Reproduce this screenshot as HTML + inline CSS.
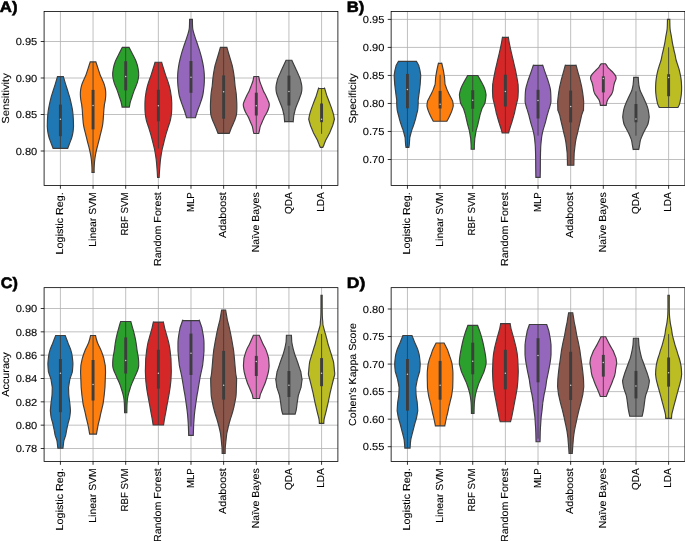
<!DOCTYPE html>
<html><head><meta charset="utf-8"><style>
html,body{margin:0;padding:0;background:#fff;}
svg{display:block;will-change:transform;}
text{font-family:"Liberation Sans",sans-serif;fill:#000;stroke:#000;stroke-width:0.1px;text-rendering:geometricPrecision;}
.gr{stroke:#b0b0b0;stroke-width:0.8;fill:none;}
.sp{stroke:#000;stroke-width:0.8;fill:none;}
.tk{stroke:#000;stroke-width:0.8;}
</style></head><body>
<svg width="685" height="541" viewBox="0 0 685 541">
<rect width="685" height="541" fill="#fff"/>
<line x1="60.41" y1="11.55" x2="60.41" y2="185.40" class="gr"/>
<line x1="93.06" y1="11.55" x2="93.06" y2="185.40" class="gr"/>
<line x1="125.70" y1="11.55" x2="125.70" y2="185.40" class="gr"/>
<line x1="158.35" y1="11.55" x2="158.35" y2="185.40" class="gr"/>
<line x1="190.99" y1="11.55" x2="190.99" y2="185.40" class="gr"/>
<line x1="223.64" y1="11.55" x2="223.64" y2="185.40" class="gr"/>
<line x1="256.29" y1="11.55" x2="256.29" y2="185.40" class="gr"/>
<line x1="288.93" y1="11.55" x2="288.93" y2="185.40" class="gr"/>
<line x1="321.58" y1="11.55" x2="321.58" y2="185.40" class="gr"/>
<line x1="44.09" y1="151.00" x2="337.90" y2="151.00" class="gr"/>
<line x1="44.09" y1="114.50" x2="337.90" y2="114.50" class="gr"/>
<line x1="44.09" y1="78.00" x2="337.90" y2="78.00" class="gr"/>
<line x1="44.09" y1="41.50" x2="337.90" y2="41.50" class="gr"/>
<path d="M63.36,76.60 C63.68,77.68 64.55,80.78 65.26,83.10 C65.97,85.42 66.85,88.03 67.61,90.50 C68.38,92.97 69.20,95.43 69.86,97.90 C70.52,100.37 71.10,103.08 71.56,105.30 C72.03,107.52 72.37,108.97 72.66,111.20 C72.95,113.43 73.17,116.23 73.31,118.70 C73.46,121.17 73.48,124.73 73.52,126.00 C73.55,127.27 73.56,125.55 73.51,126.30 C73.46,127.05 73.36,129.18 73.21,130.50 C73.06,131.82 72.88,132.95 72.61,134.20 C72.35,135.45 72.00,136.77 71.61,138.00 C71.23,139.23 70.75,140.43 70.31,141.60 C69.88,142.77 69.45,143.87 69.01,145.00 C68.58,146.13 67.93,147.83 67.71,148.40 L53.11,148.40 C52.90,147.83 52.25,146.13 51.81,145.00 C51.38,143.87 50.95,142.77 50.51,141.60 C50.08,140.43 49.60,139.23 49.21,138.00 C48.83,136.77 48.48,135.45 48.21,134.20 C47.95,132.95 47.76,131.82 47.61,130.50 C47.46,129.18 47.36,127.05 47.31,126.30 C47.26,125.55 47.28,127.27 47.31,126.00 C47.34,124.73 47.37,121.17 47.51,118.70 C47.66,116.23 47.87,113.43 48.16,111.20 C48.45,108.97 48.80,107.52 49.26,105.30 C49.73,103.08 50.30,100.37 50.96,97.90 C51.62,95.43 52.45,92.97 53.21,90.50 C53.98,88.03 54.85,85.42 55.56,83.10 C56.27,80.78 57.15,77.68 57.46,76.60 Z" fill="#1f77b4" stroke="#3d3d3d" stroke-width="1.15" stroke-linejoin="miter" stroke-miterlimit="3"/><line x1="60.41" y1="76.60" x2="60.41" y2="148.40" stroke="#3d3d3d" stroke-width="0.9"/><rect x="58.96" y="104.60" width="2.9" height="31.60" fill="#3d3d3d"/><circle cx="60.41" cy="119.20" r="0.75" fill="#d0d0d0"/>
<path d="M95.86,61.90 C96.22,63.02 97.34,66.42 98.06,68.60 C98.77,70.78 99.44,73.12 100.16,75.00 C100.87,76.88 101.66,78.27 102.36,79.90 C103.06,81.53 103.84,83.17 104.36,84.80 C104.87,86.43 105.22,88.07 105.46,89.70 C105.69,91.33 105.77,92.97 105.76,94.60 C105.74,96.23 105.56,97.93 105.36,99.50 C105.15,101.07 104.67,103.18 104.52,104.00 C104.37,104.82 104.56,103.52 104.45,104.40 C104.35,105.28 104.06,107.67 103.91,109.30 C103.76,110.93 103.68,112.57 103.56,114.20 C103.45,115.83 103.28,118.13 103.22,119.10 C103.15,120.07 103.26,119.02 103.16,120.00 C103.05,120.98 102.87,123.35 102.61,125.00 C102.34,126.65 101.94,128.27 101.56,129.90 C101.17,131.53 100.71,133.17 100.31,134.80 C99.90,136.43 99.54,138.07 99.13,139.70 C98.72,141.33 98.28,142.97 97.86,144.60 C97.44,146.23 96.99,147.87 96.61,149.50 C96.22,151.13 95.86,152.77 95.56,154.40 C95.26,156.03 95.01,157.67 94.81,159.30 C94.61,160.93 94.47,162.57 94.36,164.20 C94.24,165.83 94.15,167.72 94.12,169.10 C94.08,170.48 94.15,171.93 94.16,172.50 L91.96,172.50 C91.97,171.93 92.03,170.48 92.00,169.10 C91.97,167.72 91.87,165.83 91.76,164.20 C91.64,162.57 91.51,160.93 91.31,159.30 C91.11,157.67 90.86,156.03 90.56,154.40 C90.26,152.77 89.89,151.13 89.51,149.50 C89.12,147.87 88.68,146.23 88.26,144.60 C87.84,142.97 87.39,141.33 86.98,139.70 C86.57,138.07 86.21,136.43 85.81,134.80 C85.40,133.17 84.94,131.53 84.56,129.90 C84.17,128.27 83.77,126.65 83.51,125.00 C83.24,123.35 83.06,120.98 82.96,120.00 C82.86,119.02 82.97,120.07 82.90,119.10 C82.83,118.13 82.67,115.83 82.55,114.20 C82.44,112.57 82.36,110.93 82.21,109.30 C82.06,107.67 81.76,105.28 81.66,104.40 C81.56,103.52 81.75,104.82 81.60,104.00 C81.45,103.18 80.96,101.07 80.76,99.50 C80.55,97.93 80.37,96.23 80.36,94.60 C80.34,92.97 80.42,91.33 80.66,89.70 C80.89,88.07 81.24,86.43 81.76,84.80 C82.27,83.17 83.06,81.53 83.76,79.90 C84.46,78.27 85.24,76.88 85.96,75.00 C86.67,73.12 87.34,70.78 88.06,68.60 C88.77,66.42 89.89,63.02 90.26,61.90 Z" fill="#ff7f0e" stroke="#3d3d3d" stroke-width="1.15" stroke-linejoin="miter" stroke-miterlimit="3"/><line x1="93.06" y1="61.90" x2="93.06" y2="172.50" stroke="#3d3d3d" stroke-width="0.9"/><rect x="91.61" y="89.90" width="2.9" height="39.50" fill="#3d3d3d"/><circle cx="93.06" cy="105.60" r="0.75" fill="#d0d0d0"/>
<path d="M129.10,47.40 C129.69,48.55 131.44,51.95 132.60,54.30 C133.77,56.65 135.19,59.12 136.10,61.50 C137.02,63.88 137.67,66.22 138.10,68.60 C138.54,70.98 138.85,73.42 138.70,75.80 C138.55,78.18 137.94,80.52 137.20,82.90 C136.47,85.28 135.19,87.72 134.30,90.10 C133.42,92.48 132.57,95.22 131.90,97.20 C131.24,99.18 130.74,100.35 130.30,102.00 C129.87,103.65 129.47,106.25 129.30,107.10 L122.10,107.10 C121.94,106.25 121.54,103.65 121.10,102.00 C120.67,100.35 120.17,99.18 119.50,97.20 C118.84,95.22 117.99,92.48 117.10,90.10 C116.22,87.72 114.94,85.28 114.20,82.90 C113.47,80.52 112.85,78.18 112.70,75.80 C112.55,73.42 112.87,70.98 113.30,68.60 C113.74,66.22 114.39,63.88 115.30,61.50 C116.22,59.12 117.64,56.65 118.80,54.30 C119.97,51.95 121.72,48.55 122.30,47.40 Z" fill="#2ca02c" stroke="#3d3d3d" stroke-width="1.15" stroke-linejoin="miter" stroke-miterlimit="3"/><line x1="125.70" y1="47.40" x2="125.70" y2="107.10" stroke="#3d3d3d" stroke-width="0.9"/><rect x="124.25" y="61.20" width="2.9" height="29.20" fill="#3d3d3d"/><circle cx="125.70" cy="76.50" r="0.75" fill="#d0d0d0"/>
<path d="M161.65,62.20 C161.93,63.17 162.72,65.93 163.36,68.00 C163.99,70.07 164.79,72.60 165.45,74.60 C166.11,76.60 166.89,78.73 167.33,80.00 C167.78,81.27 167.80,81.20 168.12,82.20 C168.44,83.20 168.91,84.73 169.25,86.00 C169.59,87.27 169.95,88.80 170.18,89.80 C170.40,90.80 170.45,90.97 170.61,92.00 C170.78,93.03 171.05,95.00 171.18,96.00 C171.32,97.00 171.34,96.73 171.43,98.00 C171.53,99.27 171.73,101.20 171.75,103.60 C171.77,106.00 171.77,109.70 171.55,112.40 C171.33,115.10 171.02,117.33 170.45,119.80 C169.88,122.27 168.92,124.73 168.15,127.20 C167.38,129.67 166.55,132.13 165.85,134.60 C165.15,137.07 164.55,139.60 163.95,142.00 C163.35,144.40 162.70,146.93 162.25,149.00 C161.80,151.07 161.53,152.68 161.25,154.40 C160.97,156.12 160.75,157.67 160.55,159.30 C160.35,160.93 160.23,162.12 160.05,164.20 C159.87,166.28 159.60,169.58 159.45,171.80 C159.30,174.02 159.20,176.55 159.15,177.50 L157.55,177.50 C157.50,176.55 157.40,174.02 157.25,171.80 C157.10,169.58 156.83,166.28 156.65,164.20 C156.47,162.12 156.35,160.93 156.15,159.30 C155.95,157.67 155.73,156.12 155.45,154.40 C155.17,152.68 154.90,151.07 154.45,149.00 C154.00,146.93 153.35,144.40 152.75,142.00 C152.15,139.60 151.55,137.07 150.85,134.60 C150.15,132.13 149.32,129.67 148.55,127.20 C147.78,124.73 146.82,122.27 146.25,119.80 C145.68,117.33 145.37,115.10 145.15,112.40 C144.93,109.70 144.93,106.00 144.95,103.60 C144.97,101.20 145.17,99.27 145.27,98.00 C145.36,96.73 145.38,97.00 145.52,96.00 C145.65,95.00 145.92,93.03 146.09,92.00 C146.25,90.97 146.30,90.80 146.52,89.80 C146.75,88.80 147.11,87.27 147.45,86.00 C147.79,84.73 148.26,83.20 148.58,82.20 C148.90,81.20 148.92,81.27 149.37,80.00 C149.81,78.73 150.59,76.60 151.25,74.60 C151.91,72.60 152.71,70.07 153.34,68.00 C153.98,65.93 154.76,63.17 155.05,62.20 Z" fill="#d62728" stroke="#3d3d3d" stroke-width="1.15" stroke-linejoin="miter" stroke-miterlimit="3"/><line x1="158.35" y1="62.20" x2="158.35" y2="148.50" stroke="#3d3d3d" stroke-width="0.9"/><rect x="156.90" y="89.80" width="2.9" height="31.50" fill="#3d3d3d"/><circle cx="158.35" cy="105.80" r="0.75" fill="#d0d0d0"/>
<path d="M192.39,19.30 C192.46,20.95 192.38,26.30 192.79,29.20 C193.21,32.10 194.11,34.18 194.89,36.70 C195.68,39.22 196.64,41.77 197.49,44.30 C198.34,46.83 199.24,49.37 199.99,51.90 C200.74,54.43 201.41,56.98 201.99,59.50 C202.58,62.02 203.11,64.48 203.49,67.00 C203.88,69.52 204.16,72.07 204.29,74.60 C204.43,77.13 204.41,79.67 204.29,82.20 C204.18,84.73 203.88,87.50 203.59,89.80 C203.31,92.10 203.16,93.70 202.59,96.00 C202.03,98.30 201.06,101.07 200.19,103.60 C199.33,106.13 198.19,108.85 197.39,111.20 C196.59,113.55 195.73,116.62 195.39,117.70 L186.59,117.70 C186.26,116.62 185.39,113.55 184.59,111.20 C183.79,108.85 182.66,106.13 181.79,103.60 C180.93,101.07 179.96,98.30 179.39,96.00 C178.83,93.70 178.68,92.10 178.39,89.80 C178.11,87.50 177.81,84.73 177.69,82.20 C177.58,79.67 177.56,77.13 177.69,74.60 C177.83,72.07 178.11,69.52 178.49,67.00 C178.88,64.48 179.41,62.02 179.99,59.50 C180.58,56.98 181.24,54.43 181.99,51.90 C182.74,49.37 183.64,46.83 184.49,44.30 C185.34,41.77 186.31,39.22 187.09,36.70 C187.88,34.18 188.78,32.10 189.19,29.20 C189.61,26.30 189.53,20.95 189.59,19.30 Z" fill="#9467bd" stroke="#3d3d3d" stroke-width="1.15" stroke-linejoin="miter" stroke-miterlimit="3"/><line x1="190.99" y1="19.30" x2="190.99" y2="117.70" stroke="#3d3d3d" stroke-width="0.9"/><rect x="189.54" y="61.00" width="2.9" height="31.80" fill="#3d3d3d"/><circle cx="190.99" cy="77.30" r="0.75" fill="#d0d0d0"/>
<path d="M226.89,47.40 C227.13,48.25 227.88,50.90 228.34,52.50 C228.80,54.10 229.24,55.58 229.67,57.00 C230.09,58.42 230.49,59.67 230.89,61.00 C231.29,62.33 231.71,63.58 232.07,65.00 C232.43,66.42 232.75,68.00 233.04,69.50 C233.33,71.00 233.57,72.58 233.79,74.00 C234.00,75.42 234.18,76.63 234.34,78.00 C234.50,79.37 234.61,80.78 234.74,82.20 C234.87,83.62 234.99,85.23 235.14,86.50 C235.30,87.77 235.49,88.55 235.67,89.80 C235.86,91.05 236.10,92.55 236.24,94.00 C236.39,95.45 236.45,97.00 236.54,98.50 C236.63,100.00 236.74,101.58 236.79,103.00 C236.84,104.42 236.86,105.67 236.85,107.00 C236.85,108.33 236.83,109.75 236.77,111.00 C236.70,112.25 236.64,113.50 236.48,114.50 C236.32,115.50 236.05,116.12 235.79,117.00 C235.52,117.88 235.26,118.85 234.90,119.80 C234.53,120.75 234.04,121.72 233.61,122.70 C233.18,123.68 232.79,124.57 232.32,125.70 C231.84,126.83 231.24,128.22 230.73,129.50 C230.22,130.78 229.49,132.75 229.24,133.40 L218.04,133.40 C217.79,132.75 217.07,130.78 216.55,129.50 C216.04,128.22 215.45,126.83 214.97,125.70 C214.49,124.57 214.11,123.68 213.68,122.70 C213.25,121.72 212.75,120.75 212.39,119.80 C212.02,118.85 211.76,117.88 211.49,117.00 C211.23,116.12 210.97,115.50 210.80,114.50 C210.64,113.50 210.58,112.25 210.51,111.00 C210.45,109.75 210.43,108.33 210.43,107.00 C210.42,105.67 210.44,104.42 210.49,103.00 C210.54,101.58 210.65,100.00 210.74,98.50 C210.83,97.00 210.90,95.45 211.04,94.00 C211.19,92.55 211.43,91.05 211.61,89.80 C211.79,88.55 211.99,87.77 212.14,86.50 C212.30,85.23 212.41,83.62 212.54,82.20 C212.67,80.78 212.78,79.37 212.94,78.00 C213.10,76.63 213.28,75.42 213.49,74.00 C213.71,72.58 213.95,71.00 214.24,69.50 C214.53,68.00 214.86,66.42 215.21,65.00 C215.57,63.58 215.99,62.33 216.39,61.00 C216.79,59.67 217.19,58.42 217.61,57.00 C218.04,55.58 218.48,54.10 218.94,52.50 C219.40,50.90 220.15,48.25 220.39,47.40 Z" fill="#8c564b" stroke="#3d3d3d" stroke-width="1.15" stroke-linejoin="miter" stroke-miterlimit="3"/><line x1="223.64" y1="47.40" x2="223.64" y2="133.40" stroke="#3d3d3d" stroke-width="0.9"/><rect x="222.19" y="75.40" width="2.9" height="43.30" fill="#3d3d3d"/><circle cx="223.64" cy="91.80" r="0.75" fill="#d0d0d0"/>
<path d="M258.69,76.50 C258.87,77.33 259.30,79.88 259.79,81.50 C260.27,83.12 260.99,84.63 261.59,86.20 C262.19,87.77 262.67,89.32 263.39,90.90 C264.10,92.48 265.12,94.12 265.89,95.70 C266.65,97.28 267.43,99.02 267.99,100.40 C268.54,101.78 269.09,102.82 269.24,104.00 C269.38,105.18 269.20,106.13 268.84,107.50 C268.47,108.87 267.79,110.62 267.04,112.20 C266.29,113.78 265.13,115.42 264.34,117.00 C263.54,118.58 262.96,120.13 262.29,121.70 C261.61,123.27 260.79,124.82 260.29,126.40 C259.79,127.98 259.55,130.02 259.29,131.20 C259.02,132.38 258.79,133.12 258.69,133.50 L253.89,133.50 C253.79,133.12 253.55,132.38 253.29,131.20 C253.02,130.02 252.79,127.98 252.29,126.40 C251.79,124.82 250.96,123.27 250.29,121.70 C249.61,120.13 249.03,118.58 248.24,117.00 C247.44,115.42 246.29,113.78 245.54,112.20 C244.79,110.62 244.10,108.87 243.74,107.50 C243.37,106.13 243.19,105.18 243.34,104.00 C243.48,102.82 244.03,101.78 244.59,100.40 C245.14,99.02 245.92,97.28 246.69,95.70 C247.45,94.12 248.47,92.48 249.19,90.90 C249.90,89.32 250.39,87.77 250.99,86.20 C251.59,84.63 252.30,83.12 252.79,81.50 C253.27,79.88 253.70,77.33 253.89,76.50 Z" fill="#e377c2" stroke="#3d3d3d" stroke-width="1.15" stroke-linejoin="miter" stroke-miterlimit="3"/><line x1="256.29" y1="76.50" x2="256.29" y2="133.50" stroke="#3d3d3d" stroke-width="0.9"/><rect x="254.84" y="92.70" width="2.9" height="22.80" fill="#3d3d3d"/><circle cx="256.29" cy="105.70" r="0.75" fill="#d0d0d0"/>
<path d="M291.83,60.20 C292.47,61.60 294.89,66.92 295.65,68.60 C296.42,70.28 295.75,68.75 296.45,70.30 C297.14,71.85 299.08,76.10 299.81,77.90 C300.53,79.70 300.46,79.83 300.77,81.10 C301.09,82.37 301.52,84.23 301.71,85.50 C301.89,86.77 301.95,87.45 301.89,88.70 C301.83,89.95 301.83,91.12 301.33,93.00 C300.83,94.88 299.32,98.73 298.87,100.00 C298.42,101.27 299.20,99.23 298.65,100.60 C298.10,101.97 296.28,106.22 295.59,108.20 C294.90,110.18 294.81,111.28 294.51,112.50 C294.21,113.72 294.01,114.02 293.80,115.50 C293.58,116.98 293.33,120.38 293.24,121.40 C293.14,122.42 293.23,121.57 293.23,121.60 L284.63,121.60 C284.63,121.57 284.72,122.42 284.62,121.40 C284.53,120.38 284.28,116.98 284.07,115.50 C283.85,114.02 283.65,113.72 283.35,112.50 C283.05,111.28 282.96,110.18 282.27,108.20 C281.58,106.22 279.76,101.97 279.21,100.60 C278.67,99.23 279.44,101.27 278.99,100.00 C278.55,98.73 277.03,94.88 276.53,93.00 C276.03,91.12 276.04,89.95 275.98,88.70 C275.91,87.45 275.97,86.77 276.16,85.50 C276.34,84.23 276.77,82.37 277.09,81.10 C277.41,79.83 277.34,79.70 278.06,77.90 C278.78,76.10 280.73,71.85 281.42,70.30 C282.11,68.75 281.44,70.28 282.21,68.60 C282.98,66.92 285.39,61.60 286.03,60.20 Z" fill="#7f7f7f" stroke="#3d3d3d" stroke-width="1.15" stroke-linejoin="miter" stroke-miterlimit="3"/><line x1="288.93" y1="60.20" x2="288.93" y2="121.60" stroke="#3d3d3d" stroke-width="0.9"/><rect x="287.48" y="75.60" width="2.9" height="29.90" fill="#3d3d3d"/><circle cx="288.93" cy="91.50" r="0.75" fill="#d0d0d0"/>
<path d="M324.68,88.50 C324.68,88.52 324.33,87.33 324.71,88.60 C325.09,89.87 326.59,94.83 326.98,96.10 C327.36,97.37 326.62,95.17 327.01,96.20 C327.41,97.23 328.89,101.07 329.36,102.30 C329.84,103.53 329.50,102.58 329.88,103.60 C330.26,104.62 331.18,107.13 331.63,108.40 C332.08,109.67 332.25,110.17 332.57,111.20 C332.89,112.23 333.25,113.33 333.55,114.60 C333.84,115.87 334.20,117.98 334.33,118.80 C334.47,119.62 334.63,118.33 334.34,119.50 C334.05,120.67 332.95,124.58 332.59,125.80 C332.23,127.02 332.65,125.62 332.16,126.80 C331.68,127.98 330.13,131.82 329.68,132.90 C329.23,133.98 330.02,132.28 329.46,133.30 C328.91,134.32 327.05,137.73 326.37,139.00 C325.69,140.27 325.75,140.08 325.40,140.90 C325.05,141.72 324.53,143.13 324.25,143.90 C323.96,144.67 323.93,144.93 323.69,145.50 C323.45,146.07 322.94,147.00 322.79,147.30 L320.36,147.30 C320.21,147.00 319.71,146.07 319.46,145.50 C319.22,144.93 319.19,144.67 318.91,143.90 C318.62,143.13 318.11,141.72 317.75,140.90 C317.40,140.08 317.46,140.27 316.79,139.00 C316.11,137.73 314.24,134.32 313.69,133.30 C313.14,132.28 313.92,133.98 313.47,132.90 C313.02,131.82 311.48,127.98 310.99,126.80 C310.51,125.62 310.93,127.02 310.56,125.80 C310.20,124.58 309.10,120.67 308.81,119.50 C308.52,118.33 308.69,119.62 308.82,118.80 C308.95,117.98 309.31,115.87 309.61,114.60 C309.90,113.33 310.27,112.23 310.59,111.20 C310.91,110.17 311.08,109.67 311.52,108.40 C311.97,107.13 312.90,104.62 313.28,103.60 C313.66,102.58 313.31,103.53 313.79,102.30 C314.27,101.07 315.74,97.23 316.14,96.20 C316.54,95.17 315.79,97.37 316.18,96.10 C316.56,94.83 318.06,89.87 318.45,88.60 C318.83,87.33 318.47,88.52 318.48,88.50 Z" fill="#bcbd22" stroke="#3d3d3d" stroke-width="1.15" stroke-linejoin="miter" stroke-miterlimit="3"/><line x1="321.58" y1="88.50" x2="321.58" y2="133.80" stroke="#3d3d3d" stroke-width="0.9"/><rect x="320.13" y="103.50" width="2.9" height="18.70" fill="#3d3d3d"/><circle cx="321.58" cy="119.20" r="0.75" fill="#d0d0d0"/>
<rect x="44.09" y="11.55" width="293.81" height="173.85" class="sp"/>
<line x1="60.41" y1="185.40" x2="60.41" y2="188.80" class="tk"/>
<text x="0.00" y="0.00" font-size="10.20" text-anchor="end" textLength="62.11" lengthAdjust="spacingAndGlyphs" transform="translate(63.06,192.30) rotate(-90)">Logistic Reg.</text>
<line x1="93.06" y1="185.40" x2="93.06" y2="188.80" class="tk"/>
<text x="0.00" y="0.00" font-size="10.20" text-anchor="end" textLength="54.39" lengthAdjust="spacingAndGlyphs" transform="translate(95.71,192.30) rotate(-90)">Linear SVM</text>
<line x1="125.70" y1="185.40" x2="125.70" y2="188.80" class="tk"/>
<text x="0.00" y="0.00" font-size="10.20" text-anchor="end" textLength="43.22" lengthAdjust="spacingAndGlyphs" transform="translate(128.35,192.30) rotate(-90)">RBF SVM</text>
<line x1="158.35" y1="185.40" x2="158.35" y2="188.80" class="tk"/>
<text x="0.00" y="0.00" font-size="10.20" text-anchor="end" textLength="73.78" lengthAdjust="spacingAndGlyphs" transform="translate(161.00,192.30) rotate(-90)">Random Forest</text>
<line x1="190.99" y1="185.40" x2="190.99" y2="188.80" class="tk"/>
<text x="0.00" y="0.00" font-size="10.20" text-anchor="end" textLength="19.62" lengthAdjust="spacingAndGlyphs" transform="translate(193.64,192.30) rotate(-90)">MLP</text>
<line x1="223.64" y1="185.40" x2="223.64" y2="188.80" class="tk"/>
<text x="0.00" y="0.00" font-size="10.20" text-anchor="end" textLength="45.62" lengthAdjust="spacingAndGlyphs" transform="translate(226.29,192.30) rotate(-90)">Adaboost</text>
<line x1="256.29" y1="185.40" x2="256.29" y2="188.80" class="tk"/>
<text x="0.00" y="0.00" font-size="10.20" text-anchor="end" textLength="60.05" lengthAdjust="spacingAndGlyphs" transform="translate(258.94,192.30) rotate(-90)">Naïve Bayes</text>
<line x1="288.93" y1="185.40" x2="288.93" y2="188.80" class="tk"/>
<text x="0.00" y="0.00" font-size="10.20" text-anchor="end" textLength="21.74" lengthAdjust="spacingAndGlyphs" transform="translate(291.58,192.30) rotate(-90)">QDA</text>
<line x1="321.58" y1="185.40" x2="321.58" y2="188.80" class="tk"/>
<text x="0.00" y="0.00" font-size="10.20" text-anchor="end" textLength="19.51" lengthAdjust="spacingAndGlyphs" transform="translate(324.23,192.30) rotate(-90)">LDA</text>
<line x1="40.69" y1="151.00" x2="44.09" y2="151.00" class="tk"/>
<text x="37.29" y="154.70" font-size="10.20" text-anchor="end" textLength="21.60" lengthAdjust="spacingAndGlyphs">0.80</text>
<line x1="40.69" y1="114.50" x2="44.09" y2="114.50" class="tk"/>
<text x="37.29" y="118.20" font-size="10.20" text-anchor="end" textLength="21.60" lengthAdjust="spacingAndGlyphs">0.85</text>
<line x1="40.69" y1="78.00" x2="44.09" y2="78.00" class="tk"/>
<text x="37.29" y="81.70" font-size="10.20" text-anchor="end" textLength="21.60" lengthAdjust="spacingAndGlyphs">0.90</text>
<line x1="40.69" y1="41.50" x2="44.09" y2="41.50" class="tk"/>
<text x="37.29" y="45.20" font-size="10.20" text-anchor="end" textLength="21.60" lengthAdjust="spacingAndGlyphs">0.95</text>
<text x="0.00" y="0.00" font-size="10.20" text-anchor="middle" textLength="50.50" lengthAdjust="spacingAndGlyphs" transform="translate(9.19,98.48) rotate(-90)">Sensitivity</text>
<text x="-0.21" y="11.85" font-size="15.20" text-anchor="start" font-weight="bold" style="stroke-width:0.55px" textLength="17.73" lengthAdjust="spacingAndGlyphs">A)</text>
<line x1="407.45" y1="11.50" x2="407.45" y2="185.40" class="gr"/>
<line x1="440.10" y1="11.50" x2="440.10" y2="185.40" class="gr"/>
<line x1="472.74" y1="11.50" x2="472.74" y2="185.40" class="gr"/>
<line x1="505.39" y1="11.50" x2="505.39" y2="185.40" class="gr"/>
<line x1="538.03" y1="11.50" x2="538.03" y2="185.40" class="gr"/>
<line x1="570.67" y1="11.50" x2="570.67" y2="185.40" class="gr"/>
<line x1="603.32" y1="11.50" x2="603.32" y2="185.40" class="gr"/>
<line x1="635.96" y1="11.50" x2="635.96" y2="185.40" class="gr"/>
<line x1="668.61" y1="11.50" x2="668.61" y2="185.40" class="gr"/>
<line x1="391.13" y1="159.50" x2="684.93" y2="159.50" class="gr"/>
<line x1="391.13" y1="131.48" x2="684.93" y2="131.48" class="gr"/>
<line x1="391.13" y1="103.46" x2="684.93" y2="103.46" class="gr"/>
<line x1="391.13" y1="75.44" x2="684.93" y2="75.44" class="gr"/>
<line x1="391.13" y1="47.42" x2="684.93" y2="47.42" class="gr"/>
<line x1="391.13" y1="19.40" x2="684.93" y2="19.40" class="gr"/>
<path d="M416.50,61.40 C416.88,62.10 418.37,64.75 418.78,65.60 C419.20,66.45 418.80,65.73 418.99,66.50 C419.18,67.27 419.76,69.48 419.94,70.20 C420.11,70.92 419.92,70.00 420.04,70.80 C420.16,71.60 420.58,73.85 420.67,75.00 C420.77,76.15 420.67,76.28 420.60,77.70 C420.53,79.12 420.34,82.23 420.25,83.50 C420.16,84.77 420.24,83.88 420.07,85.30 C419.90,86.72 419.41,90.73 419.26,92.00 C419.10,93.27 419.34,91.48 419.15,92.90 C418.97,94.32 418.30,98.98 418.15,100.50 C418.00,102.02 418.28,100.75 418.24,102.00 C418.20,103.25 418.04,106.52 417.93,108.00 C417.81,109.48 417.79,109.67 417.53,110.90 C417.27,112.13 416.75,113.93 416.38,115.40 C416.01,116.87 415.68,118.43 415.34,119.70 C415.00,120.97 414.83,121.52 414.33,123.00 C413.83,124.48 412.79,127.35 412.35,128.60 C411.91,129.85 412.09,129.02 411.66,130.50 C411.24,131.98 410.12,136.27 409.80,137.50 C409.49,138.73 409.84,136.72 409.75,137.90 C409.67,139.08 409.40,143.33 409.30,144.60 C409.20,145.87 409.23,145.03 409.17,145.50 C409.10,145.97 408.93,147.08 408.88,147.40 L406.02,147.40 C405.98,147.08 405.81,145.97 405.74,145.50 C405.67,145.03 405.70,145.87 405.60,144.60 C405.51,143.33 405.24,139.08 405.15,137.90 C405.07,136.72 405.42,138.73 405.10,137.50 C404.78,136.27 403.67,131.98 403.24,130.50 C402.82,129.02 403.00,129.85 402.55,128.60 C402.11,127.35 401.07,124.48 400.58,123.00 C400.08,121.52 399.91,120.97 399.57,119.70 C399.22,118.43 398.89,116.87 398.52,115.40 C398.16,113.93 397.63,112.13 397.37,110.90 C397.12,109.67 397.10,109.48 396.98,108.00 C396.86,106.52 396.70,103.25 396.67,102.00 C396.63,100.75 396.90,102.02 396.75,100.50 C396.60,98.98 395.94,94.32 395.75,92.90 C395.57,91.48 395.80,93.27 395.65,92.00 C395.49,90.73 395.00,86.72 394.83,85.30 C394.67,83.88 394.74,84.77 394.65,83.50 C394.56,82.23 394.37,79.12 394.30,77.70 C394.23,76.28 394.14,76.15 394.23,75.00 C394.32,73.85 394.74,71.60 394.87,70.80 C394.99,70.00 394.79,70.92 394.97,70.20 C395.14,69.48 395.72,67.27 395.91,66.50 C396.11,65.73 395.71,66.45 396.12,65.60 C396.53,64.75 398.02,62.10 398.40,61.40 Z" fill="#1f77b4" stroke="#3d3d3d" stroke-width="1.15" stroke-linejoin="miter" stroke-miterlimit="3"/><line x1="407.45" y1="61.40" x2="407.45" y2="147.40" stroke="#3d3d3d" stroke-width="0.9"/><rect x="406.00" y="73.90" width="2.9" height="34.40" fill="#3d3d3d"/><circle cx="407.45" cy="89.50" r="0.75" fill="#d0d0d0"/>
<path d="M441.80,63.30 C441.81,63.35 441.61,62.45 441.86,63.60 C442.11,64.75 443.00,68.83 443.30,70.20 C443.59,71.57 443.42,70.55 443.63,71.80 C443.83,73.05 444.39,76.70 444.55,77.70 C444.71,78.70 444.49,76.80 444.57,77.80 C444.64,78.80 444.84,82.45 444.98,83.70 C445.12,84.95 445.06,84.32 445.40,85.30 C445.73,86.28 446.47,88.33 446.99,89.60 C447.50,90.87 448.04,91.92 448.51,92.90 C448.97,93.88 449.14,94.23 449.78,95.50 C450.42,96.77 451.85,99.52 452.34,100.50 C452.82,101.48 452.53,100.60 452.68,101.40 C452.83,102.20 453.19,104.32 453.23,105.30 C453.27,106.28 453.19,106.33 452.94,107.30 C452.70,108.27 452.10,110.10 451.76,111.10 C451.42,112.10 451.37,112.23 450.89,113.30 C450.41,114.37 449.56,116.18 448.90,117.50 C448.23,118.82 447.23,120.58 446.90,121.20 L433.30,121.20 C432.96,120.58 431.96,118.82 431.30,117.50 C430.63,116.18 429.78,114.37 429.31,113.30 C428.83,112.23 428.78,112.10 428.43,111.10 C428.09,110.10 427.50,108.27 427.25,107.30 C427.01,106.33 426.92,106.28 426.96,105.30 C427.01,104.32 427.36,102.20 427.51,101.40 C427.66,100.60 427.37,101.48 427.86,100.50 C428.34,99.52 429.77,96.77 430.41,95.50 C431.05,94.23 431.22,93.88 431.68,92.90 C432.15,91.92 432.69,90.87 433.21,89.60 C433.73,88.33 434.46,86.28 434.80,85.30 C435.13,84.32 435.07,84.95 435.21,83.70 C435.35,82.45 435.55,78.80 435.63,77.80 C435.70,76.80 435.49,78.70 435.64,77.70 C435.80,76.70 436.36,73.05 436.57,71.80 C436.78,70.55 436.60,71.57 436.90,70.20 C437.19,68.83 438.08,64.75 438.33,63.60 C438.58,62.45 438.39,63.35 438.40,63.30 Z" fill="#ff7f0e" stroke="#3d3d3d" stroke-width="1.15" stroke-linejoin="miter" stroke-miterlimit="3"/><line x1="440.10" y1="74.70" x2="440.10" y2="121.20" stroke="#3d3d3d" stroke-width="0.9"/><rect x="438.65" y="90.90" width="2.9" height="17.60" fill="#3d3d3d"/><circle cx="440.10" cy="104.20" r="0.75" fill="#d0d0d0"/>
<path d="M477.83,75.50 C478.33,76.40 480.18,79.77 480.81,80.90 C481.44,82.03 481.10,81.32 481.61,82.30 C482.12,83.28 483.31,85.55 483.89,86.80 C484.46,88.05 484.71,88.57 485.06,89.80 C485.41,91.03 485.82,93.18 485.97,94.20 C486.13,95.22 486.12,94.67 485.99,95.90 C485.86,97.13 485.42,100.33 485.20,101.60 C484.99,102.87 485.25,102.35 484.72,103.50 C484.19,104.65 482.50,107.58 482.02,108.50 C481.54,109.42 482.16,107.88 481.82,109.00 C481.48,110.12 480.33,113.97 479.98,115.20 C479.62,116.43 479.99,115.15 479.70,116.40 C479.41,117.65 478.52,121.47 478.24,122.70 C477.96,123.93 478.34,122.53 478.00,123.80 C477.66,125.07 476.55,129.07 476.21,130.30 C475.88,131.53 476.23,129.93 476.01,131.20 C475.79,132.47 475.09,136.67 474.89,137.90 C474.68,139.13 474.87,137.33 474.78,138.60 C474.69,139.87 474.41,143.73 474.34,145.50 C474.27,147.27 474.34,148.58 474.34,149.20 L471.14,149.20 C471.14,148.58 471.21,147.27 471.14,145.50 C471.07,143.73 470.79,139.87 470.70,138.60 C470.61,137.33 470.80,139.13 470.59,137.90 C470.39,136.67 469.69,132.47 469.47,131.20 C469.25,129.93 469.60,131.53 469.27,130.30 C468.94,129.07 467.82,125.07 467.48,123.80 C467.14,122.53 467.52,123.93 467.24,122.70 C466.96,121.47 466.07,117.65 465.78,116.40 C465.49,115.15 465.86,116.43 465.51,115.20 C465.15,113.97 464.00,110.12 463.66,109.00 C463.32,107.88 463.94,109.42 463.46,108.50 C462.98,107.58 461.29,104.65 460.76,103.50 C460.23,102.35 460.49,102.87 460.28,101.60 C460.07,100.33 459.62,97.13 459.50,95.90 C459.37,94.67 459.35,95.22 459.51,94.20 C459.66,93.18 460.07,91.03 460.42,89.80 C460.77,88.57 461.02,88.05 461.60,86.80 C462.17,85.55 463.36,83.28 463.87,82.30 C464.38,81.32 464.04,82.03 464.67,80.90 C465.30,79.77 467.15,76.40 467.65,75.50 Z" fill="#2ca02c" stroke="#3d3d3d" stroke-width="1.15" stroke-linejoin="miter" stroke-miterlimit="3"/><line x1="472.74" y1="75.50" x2="472.74" y2="131.80" stroke="#3d3d3d" stroke-width="0.9"/><rect x="471.29" y="90.20" width="2.9" height="18.60" fill="#3d3d3d"/><circle cx="472.74" cy="100.20" r="0.75" fill="#d0d0d0"/>
<path d="M508.29,37.30 C508.30,37.37 508.20,36.65 508.39,37.70 C508.57,38.75 509.16,42.35 509.38,43.60 C509.60,44.85 509.40,43.68 509.73,45.20 C510.06,46.72 511.06,51.37 511.35,52.70 C511.64,54.03 511.16,51.93 511.47,53.20 C511.77,54.47 512.81,58.70 513.19,60.30 C513.57,61.90 513.46,61.53 513.75,62.80 C514.05,64.07 514.60,66.28 514.96,67.90 C515.33,69.52 515.67,71.23 515.94,72.50 C516.20,73.77 516.25,73.90 516.55,75.50 C516.84,77.10 517.48,80.85 517.70,82.10 C517.92,83.35 517.82,82.68 517.88,83.00 C517.94,83.32 518.00,82.73 518.06,84.00 C518.13,85.27 518.24,89.00 518.25,90.60 C518.26,92.20 518.20,92.33 518.13,93.60 C518.06,94.87 518.07,96.60 517.83,98.20 C517.58,99.80 516.87,102.23 516.64,103.20 C516.41,104.17 516.68,103.03 516.46,104.00 C516.23,104.97 515.62,107.53 515.30,109.00 C514.98,110.47 514.77,111.77 514.54,112.80 C514.30,113.83 514.34,113.58 513.87,115.20 C513.41,116.82 512.11,121.25 511.74,122.50 C511.37,123.75 511.96,121.78 511.67,122.70 C511.38,123.62 510.39,126.73 509.98,128.00 C509.58,129.27 509.46,129.47 509.23,130.30 C509.01,131.13 508.74,132.55 508.64,133.00 L502.13,133.00 C502.03,132.55 501.76,131.13 501.54,130.30 C501.31,129.47 501.19,129.27 500.79,128.00 C500.38,126.73 499.39,123.62 499.10,122.70 C498.81,121.78 499.40,123.75 499.03,122.50 C498.66,121.25 497.36,116.82 496.90,115.20 C496.43,113.58 496.47,113.83 496.24,112.80 C496.00,111.77 495.79,110.47 495.47,109.00 C495.15,107.53 494.54,104.97 494.31,104.00 C494.09,103.03 494.36,104.17 494.13,103.20 C493.90,102.23 493.19,99.80 492.95,98.20 C492.70,96.60 492.71,94.87 492.64,93.60 C492.57,92.33 492.51,92.20 492.52,90.60 C492.53,89.00 492.65,85.27 492.71,84.00 C492.77,82.73 492.83,83.32 492.89,83.00 C492.95,82.68 492.85,83.35 493.07,82.10 C493.29,80.85 493.93,77.10 494.22,75.50 C494.52,73.90 494.57,73.77 494.84,72.50 C495.10,71.23 495.45,69.52 495.81,67.90 C496.17,66.28 496.72,64.07 497.02,62.80 C497.31,61.53 497.20,61.90 497.58,60.30 C497.96,58.70 499.00,54.47 499.31,53.20 C499.61,51.93 499.13,54.03 499.42,52.70 C499.71,51.37 500.71,46.72 501.04,45.20 C501.37,43.68 501.17,44.85 501.39,43.60 C501.61,42.35 502.20,38.75 502.38,37.70 C502.57,36.65 502.47,37.37 502.49,37.30 Z" fill="#d62728" stroke="#3d3d3d" stroke-width="1.15" stroke-linejoin="miter" stroke-miterlimit="3"/><line x1="505.39" y1="37.30" x2="505.39" y2="133.00" stroke="#3d3d3d" stroke-width="0.9"/><rect x="503.94" y="74.70" width="2.9" height="31.80" fill="#3d3d3d"/><circle cx="505.39" cy="91.40" r="0.75" fill="#d0d0d0"/>
<path d="M542.73,65.30 C542.75,65.37 542.52,64.65 542.88,65.70 C543.23,66.75 544.47,70.48 544.84,71.60 C545.22,72.72 544.64,71.00 545.14,72.40 C545.63,73.80 547.31,78.53 547.82,80.00 C548.33,81.47 547.82,79.93 548.19,81.20 C548.56,82.47 549.64,86.00 550.03,87.60 C550.42,89.20 550.42,89.53 550.55,90.80 C550.69,92.07 550.76,93.58 550.83,95.20 C550.90,96.82 550.95,99.25 550.94,100.50 C550.94,101.75 551.04,101.52 550.81,102.70 C550.58,103.88 549.91,106.37 549.56,107.60 C549.20,108.83 549.09,108.83 548.70,110.10 C548.30,111.37 547.48,114.22 547.19,115.20 C546.90,116.18 547.29,114.75 546.98,116.00 C546.67,117.25 545.61,121.55 545.32,122.70 C545.04,123.85 545.65,121.63 545.27,122.90 C544.89,124.17 543.60,128.13 543.03,130.30 C542.46,132.47 542.10,134.63 541.85,135.90 C541.61,137.17 541.72,136.30 541.55,137.90 C541.37,139.50 540.95,143.68 540.80,145.50 C540.66,147.32 540.70,147.55 540.65,148.80 C540.60,150.05 540.56,151.03 540.51,153.00 C540.47,154.97 540.41,159.15 540.38,160.60 C540.36,162.05 540.38,160.43 540.38,161.70 C540.37,162.97 540.37,165.60 540.34,168.20 C540.31,170.80 540.21,175.78 540.18,177.30 L535.88,177.30 C535.85,175.78 535.75,170.80 535.72,168.20 C535.69,165.60 535.69,162.97 535.68,161.70 C535.68,160.43 535.70,162.05 535.68,160.60 C535.65,159.15 535.59,154.97 535.55,153.00 C535.50,151.03 535.46,150.05 535.41,148.80 C535.36,147.55 535.40,147.32 535.26,145.50 C535.11,143.68 534.69,139.50 534.51,137.90 C534.34,136.30 534.45,137.17 534.21,135.90 C533.96,134.63 533.60,132.47 533.03,130.30 C532.46,128.13 531.17,124.17 530.79,122.90 C530.41,121.63 531.02,123.85 530.74,122.70 C530.45,121.55 529.39,117.25 529.08,116.00 C528.77,114.75 529.16,116.18 528.87,115.20 C528.58,114.22 527.76,111.37 527.36,110.10 C526.97,108.83 526.86,108.83 526.50,107.60 C526.15,106.37 525.48,103.88 525.25,102.70 C525.02,101.52 525.12,101.75 525.12,100.50 C525.11,99.25 525.16,96.82 525.23,95.20 C525.30,93.58 525.37,92.07 525.51,90.80 C525.64,89.53 525.64,89.20 526.03,87.60 C526.42,86.00 527.50,82.47 527.87,81.20 C528.24,79.93 527.73,81.47 528.24,80.00 C528.75,78.53 530.43,73.80 530.92,72.40 C531.42,71.00 530.84,72.72 531.22,71.60 C531.59,70.48 532.83,66.75 533.18,65.70 C533.54,64.65 533.31,65.37 533.33,65.30 Z" fill="#9467bd" stroke="#3d3d3d" stroke-width="1.15" stroke-linejoin="miter" stroke-miterlimit="3"/><line x1="538.03" y1="65.30" x2="538.03" y2="135.60" stroke="#3d3d3d" stroke-width="0.9"/><rect x="536.58" y="89.80" width="2.9" height="28.70" fill="#3d3d3d"/><circle cx="538.03" cy="100.50" r="0.75" fill="#d0d0d0"/>
<path d="M576.07,65.30 C576.10,65.37 575.91,64.65 576.20,65.70 C576.48,66.75 577.48,70.48 577.78,71.60 C578.09,72.72 577.63,71.00 578.01,72.40 C578.40,73.80 579.70,78.53 580.09,80.00 C580.49,81.47 580.08,79.93 580.37,81.20 C580.65,82.47 581.48,86.00 581.81,87.60 C582.14,89.20 582.16,89.53 582.36,90.80 C582.56,92.07 582.81,93.58 583.01,95.20 C583.22,96.82 583.48,99.25 583.59,100.50 C583.70,101.75 583.69,101.12 583.67,102.70 C583.65,104.28 583.51,108.77 583.47,110.00 C583.44,111.23 583.76,109.27 583.46,110.10 C583.15,110.93 581.96,114.15 581.65,115.00 C581.34,115.85 581.80,114.25 581.59,115.20 C581.39,116.15 580.70,119.45 580.42,120.70 C580.15,121.95 580.17,121.82 579.96,122.70 C579.74,123.58 579.44,124.73 579.13,126.00 C578.82,127.27 578.32,129.40 578.11,130.30 C577.91,131.20 578.17,130.32 577.91,131.40 C577.65,132.48 576.81,135.72 576.54,136.80 C576.27,137.88 576.46,137.00 576.28,137.90 C576.10,138.80 575.68,140.93 575.47,142.20 C575.27,143.47 575.27,143.72 575.05,145.50 C574.84,147.28 574.33,151.65 574.18,152.90 C574.03,154.15 574.22,151.72 574.18,153.00 C574.13,154.28 573.99,158.57 573.94,160.60 C573.89,162.63 573.88,164.43 573.87,165.20 L567.47,165.20 C567.46,164.43 567.46,162.63 567.41,160.60 C567.36,158.57 567.21,154.28 567.17,153.00 C567.13,151.72 567.32,154.15 567.17,152.90 C567.02,151.65 566.51,147.28 566.29,145.50 C566.08,143.72 566.08,143.47 565.88,142.20 C565.67,140.93 565.24,138.80 565.07,137.90 C564.89,137.00 565.08,137.88 564.81,136.80 C564.54,135.72 563.70,132.48 563.44,131.40 C563.18,130.32 563.44,131.20 563.24,130.30 C563.03,129.40 562.53,127.27 562.22,126.00 C561.91,124.73 561.61,123.58 561.39,122.70 C561.18,121.82 561.20,121.95 560.93,120.70 C560.65,119.45 559.96,116.15 559.76,115.20 C559.55,114.25 560.01,115.85 559.70,115.00 C559.39,114.15 558.20,110.93 557.89,110.10 C557.59,109.27 557.91,111.23 557.87,110.00 C557.84,108.77 557.69,104.28 557.67,102.70 C557.65,101.12 557.64,101.75 557.76,100.50 C557.87,99.25 558.13,96.82 558.34,95.20 C558.54,93.58 558.79,92.07 558.99,90.80 C559.19,89.53 559.21,89.20 559.54,87.60 C559.87,86.00 560.70,82.47 560.98,81.20 C561.27,79.93 560.86,81.47 561.26,80.00 C561.65,78.53 562.95,73.80 563.34,72.40 C563.72,71.00 563.26,72.72 563.57,71.60 C563.87,70.48 564.87,66.75 565.15,65.70 C565.43,64.65 565.25,65.37 565.27,65.30 Z" fill="#8c564b" stroke="#3d3d3d" stroke-width="1.15" stroke-linejoin="miter" stroke-miterlimit="3"/><line x1="570.67" y1="65.30" x2="570.67" y2="165.20" stroke="#3d3d3d" stroke-width="0.9"/><rect x="569.22" y="90.60" width="2.9" height="31.80" fill="#3d3d3d"/><circle cx="570.67" cy="106.50" r="0.75" fill="#d0d0d0"/>
<path d="M605.52,63.70 C605.71,63.98 606.29,64.80 606.68,65.40 C607.06,66.00 607.20,66.53 607.83,67.30 C608.46,68.07 609.56,69.08 610.47,70.00 C611.38,70.92 612.47,71.87 613.29,72.80 C614.12,73.73 614.95,74.75 615.42,75.60 C615.89,76.45 616.08,77.13 616.11,77.90 C616.14,78.67 615.87,79.35 615.60,80.20 C615.33,81.05 614.79,82.07 614.48,83.00 C614.18,83.93 613.96,84.88 613.77,85.80 C613.57,86.72 613.48,87.58 613.32,88.50 C613.15,89.42 613.05,90.37 612.77,91.30 C612.49,92.23 612.14,93.17 611.62,94.10 C611.10,95.03 610.30,95.98 609.67,96.90 C609.03,97.82 608.30,98.68 607.82,99.60 C607.33,100.52 607.03,101.43 606.76,102.40 C606.50,103.37 606.31,104.90 606.22,105.40 L600.42,105.40 C600.33,104.90 600.14,103.37 599.87,102.40 C599.61,101.43 599.30,100.52 598.82,99.60 C598.33,98.68 597.60,97.82 596.97,96.90 C596.34,95.98 595.54,95.03 595.02,94.10 C594.50,93.17 594.15,92.23 593.87,91.30 C593.59,90.37 593.49,89.42 593.32,88.50 C593.15,87.58 593.06,86.72 592.87,85.80 C592.67,84.88 592.46,83.93 592.16,83.00 C591.85,82.07 591.31,81.05 591.04,80.20 C590.77,79.35 590.50,78.67 590.53,77.90 C590.56,77.13 590.75,76.45 591.22,75.60 C591.69,74.75 592.52,73.73 593.34,72.80 C594.17,71.87 595.26,70.92 596.17,70.00 C597.08,69.08 598.17,68.07 598.80,67.30 C599.44,66.53 599.57,66.00 599.96,65.40 C600.35,64.80 600.93,63.98 601.12,63.70 Z" fill="#e377c2" stroke="#3d3d3d" stroke-width="1.15" stroke-linejoin="miter" stroke-miterlimit="3"/><line x1="603.32" y1="63.70" x2="603.32" y2="105.40" stroke="#3d3d3d" stroke-width="0.9"/><rect x="601.87" y="76.30" width="2.9" height="16.10" fill="#3d3d3d"/><circle cx="603.32" cy="78.40" r="0.75" fill="#d0d0d0"/>
<path d="M638.25,77.30 C638.29,77.92 638.36,79.68 638.47,81.00 C638.57,82.32 638.81,84.45 638.89,85.20 C638.97,85.95 638.74,84.70 638.92,85.50 C639.10,86.30 639.58,88.80 639.95,90.00 C640.32,91.20 640.74,91.83 641.13,92.70 C641.53,93.57 641.74,94.00 642.30,95.20 C642.86,96.40 643.92,98.65 644.50,99.90 C645.08,101.15 645.29,101.50 645.78,102.70 C646.27,103.90 647.04,105.83 647.46,107.10 C647.88,108.37 648.03,108.85 648.30,110.30 C648.57,111.75 648.96,114.53 649.09,115.80 C649.23,117.07 649.24,116.70 649.09,117.90 C648.94,119.10 648.50,121.73 648.20,123.00 C647.90,124.27 647.86,124.30 647.29,125.50 C646.73,126.70 645.47,128.95 644.81,130.20 C644.15,131.45 643.90,131.80 643.34,133.00 C642.79,134.20 641.97,136.13 641.46,137.40 C640.96,138.67 640.62,139.40 640.31,140.60 C640.01,141.80 639.74,143.83 639.61,144.60 C639.48,145.37 639.67,144.43 639.53,145.20 C639.40,145.97 638.94,148.50 638.81,149.20 C638.68,149.90 638.77,149.37 638.76,149.40 L633.16,149.40 C633.16,149.37 633.25,149.90 633.12,149.20 C632.99,148.50 632.53,145.97 632.39,145.20 C632.26,144.43 632.44,145.37 632.31,144.60 C632.18,143.83 631.92,141.80 631.61,140.60 C631.31,139.40 630.97,138.67 630.47,137.40 C629.96,136.13 629.14,134.20 628.58,133.00 C628.02,131.80 627.78,131.45 627.12,130.20 C626.46,128.95 625.20,126.70 624.63,125.50 C624.07,124.30 624.03,124.27 623.73,123.00 C623.43,121.73 622.98,119.10 622.83,117.90 C622.68,116.70 622.70,117.07 622.83,115.80 C622.96,114.53 623.35,111.75 623.63,110.30 C623.90,108.85 624.05,108.37 624.47,107.10 C624.89,105.83 625.65,103.90 626.15,102.70 C626.64,101.50 626.84,101.15 627.42,99.90 C628.00,98.65 629.07,96.40 629.63,95.20 C630.19,94.00 630.40,93.57 630.79,92.70 C631.18,91.83 631.61,91.20 631.98,90.00 C632.35,88.80 632.83,86.30 633.01,85.50 C633.18,84.70 632.96,85.95 633.04,85.20 C633.11,84.45 633.35,82.32 633.46,81.00 C633.57,79.68 633.64,77.92 633.68,77.30 Z" fill="#7f7f7f" stroke="#3d3d3d" stroke-width="1.15" stroke-linejoin="miter" stroke-miterlimit="3"/><line x1="635.96" y1="91.30" x2="635.96" y2="135.70" stroke="#3d3d3d" stroke-width="0.9"/><rect x="634.51" y="104.00" width="2.9" height="18.30" fill="#3d3d3d"/><circle cx="635.96" cy="119.00" r="0.75" fill="#d0d0d0"/>
<path d="M669.76,19.30 C669.81,20.87 669.80,25.92 670.06,28.70 C670.32,31.48 670.90,33.55 671.31,36.00 C671.72,38.45 672.07,41.07 672.51,43.40 C672.94,45.73 673.47,48.07 673.91,50.00 C674.34,51.93 674.74,53.33 675.11,55.00 C675.47,56.67 675.67,58.33 676.11,60.00 C676.54,61.67 677.19,63.37 677.71,65.00 C678.22,66.63 678.77,68.18 679.21,69.80 C679.64,71.42 679.99,73.07 680.31,74.70 C680.62,76.33 680.91,77.97 681.11,79.60 C681.31,81.23 681.42,82.87 681.51,84.50 C681.59,86.13 681.64,87.77 681.61,89.40 C681.57,91.03 681.47,92.67 681.31,94.30 C681.14,95.93 680.91,97.57 680.61,99.20 C680.31,100.83 679.96,102.72 679.51,104.10 C679.06,105.48 678.17,106.93 677.91,107.50 L659.31,107.50 C659.04,106.93 658.16,105.48 657.71,104.10 C657.26,102.72 656.91,100.83 656.61,99.20 C656.31,97.57 656.07,95.93 655.91,94.30 C655.74,92.67 655.64,91.03 655.61,89.40 C655.57,87.77 655.62,86.13 655.71,84.50 C655.79,82.87 655.91,81.23 656.11,79.60 C656.31,77.97 656.59,76.33 656.91,74.70 C657.22,73.07 657.57,71.42 658.01,69.80 C658.44,68.18 658.99,66.63 659.51,65.00 C660.02,63.37 660.67,61.67 661.11,60.00 C661.54,58.33 661.74,56.67 662.11,55.00 C662.47,53.33 662.87,51.93 663.31,50.00 C663.74,48.07 664.27,45.73 664.71,43.40 C665.14,41.07 665.50,38.45 665.91,36.00 C666.32,33.55 666.90,31.48 667.16,28.70 C667.42,25.92 667.41,20.87 667.46,19.30 Z" fill="#bcbd22" stroke="#3d3d3d" stroke-width="1.15" stroke-linejoin="miter" stroke-miterlimit="3"/><line x1="668.61" y1="47.30" x2="668.61" y2="107.50" stroke="#3d3d3d" stroke-width="0.9"/><rect x="667.16" y="74.20" width="2.9" height="22.00" fill="#3d3d3d"/><circle cx="668.61" cy="77.40" r="0.75" fill="#d0d0d0"/>
<rect x="391.13" y="11.50" width="293.80" height="173.90" class="sp"/>
<line x1="407.45" y1="185.40" x2="407.45" y2="188.80" class="tk"/>
<text x="0.00" y="0.00" font-size="10.20" text-anchor="end" textLength="62.11" lengthAdjust="spacingAndGlyphs" transform="translate(410.10,192.30) rotate(-90)">Logistic Reg.</text>
<line x1="440.10" y1="185.40" x2="440.10" y2="188.80" class="tk"/>
<text x="0.00" y="0.00" font-size="10.20" text-anchor="end" textLength="54.39" lengthAdjust="spacingAndGlyphs" transform="translate(442.75,192.30) rotate(-90)">Linear SVM</text>
<line x1="472.74" y1="185.40" x2="472.74" y2="188.80" class="tk"/>
<text x="0.00" y="0.00" font-size="10.20" text-anchor="end" textLength="43.22" lengthAdjust="spacingAndGlyphs" transform="translate(475.39,192.30) rotate(-90)">RBF SVM</text>
<line x1="505.39" y1="185.40" x2="505.39" y2="188.80" class="tk"/>
<text x="0.00" y="0.00" font-size="10.20" text-anchor="end" textLength="73.78" lengthAdjust="spacingAndGlyphs" transform="translate(508.04,192.30) rotate(-90)">Random Forest</text>
<line x1="538.03" y1="185.40" x2="538.03" y2="188.80" class="tk"/>
<text x="0.00" y="0.00" font-size="10.20" text-anchor="end" textLength="19.62" lengthAdjust="spacingAndGlyphs" transform="translate(540.68,192.30) rotate(-90)">MLP</text>
<line x1="570.67" y1="185.40" x2="570.67" y2="188.80" class="tk"/>
<text x="0.00" y="0.00" font-size="10.20" text-anchor="end" textLength="45.62" lengthAdjust="spacingAndGlyphs" transform="translate(573.32,192.30) rotate(-90)">Adaboost</text>
<line x1="603.32" y1="185.40" x2="603.32" y2="188.80" class="tk"/>
<text x="0.00" y="0.00" font-size="10.20" text-anchor="end" textLength="60.05" lengthAdjust="spacingAndGlyphs" transform="translate(605.97,192.30) rotate(-90)">Naïve Bayes</text>
<line x1="635.96" y1="185.40" x2="635.96" y2="188.80" class="tk"/>
<text x="0.00" y="0.00" font-size="10.20" text-anchor="end" textLength="21.74" lengthAdjust="spacingAndGlyphs" transform="translate(638.61,192.30) rotate(-90)">QDA</text>
<line x1="668.61" y1="185.40" x2="668.61" y2="188.80" class="tk"/>
<text x="0.00" y="0.00" font-size="10.20" text-anchor="end" textLength="19.51" lengthAdjust="spacingAndGlyphs" transform="translate(671.26,192.30) rotate(-90)">LDA</text>
<line x1="387.73" y1="159.50" x2="391.13" y2="159.50" class="tk"/>
<text x="384.33" y="163.20" font-size="10.20" text-anchor="end" textLength="21.60" lengthAdjust="spacingAndGlyphs">0.70</text>
<line x1="387.73" y1="131.48" x2="391.13" y2="131.48" class="tk"/>
<text x="384.33" y="135.18" font-size="10.20" text-anchor="end" textLength="21.60" lengthAdjust="spacingAndGlyphs">0.75</text>
<line x1="387.73" y1="103.46" x2="391.13" y2="103.46" class="tk"/>
<text x="384.33" y="107.16" font-size="10.20" text-anchor="end" textLength="21.60" lengthAdjust="spacingAndGlyphs">0.80</text>
<line x1="387.73" y1="75.44" x2="391.13" y2="75.44" class="tk"/>
<text x="384.33" y="79.14" font-size="10.20" text-anchor="end" textLength="21.60" lengthAdjust="spacingAndGlyphs">0.85</text>
<line x1="387.73" y1="47.42" x2="391.13" y2="47.42" class="tk"/>
<text x="384.33" y="51.12" font-size="10.20" text-anchor="end" textLength="21.60" lengthAdjust="spacingAndGlyphs">0.90</text>
<line x1="387.73" y1="19.40" x2="391.13" y2="19.40" class="tk"/>
<text x="384.33" y="23.10" font-size="10.20" text-anchor="end" textLength="21.60" lengthAdjust="spacingAndGlyphs">0.95</text>
<text x="0.00" y="0.00" font-size="10.20" text-anchor="middle" textLength="49.99" lengthAdjust="spacingAndGlyphs" transform="translate(356.23,98.45) rotate(-90)">Specificity</text>
<text x="346.83" y="11.80" font-size="15.20" text-anchor="start" font-weight="bold" style="stroke-width:0.55px" textLength="17.56" lengthAdjust="spacingAndGlyphs">B)</text>
<line x1="60.41" y1="287.65" x2="60.41" y2="461.40" class="gr"/>
<line x1="93.06" y1="287.65" x2="93.06" y2="461.40" class="gr"/>
<line x1="125.70" y1="287.65" x2="125.70" y2="461.40" class="gr"/>
<line x1="158.35" y1="287.65" x2="158.35" y2="461.40" class="gr"/>
<line x1="190.99" y1="287.65" x2="190.99" y2="461.40" class="gr"/>
<line x1="223.64" y1="287.65" x2="223.64" y2="461.40" class="gr"/>
<line x1="256.29" y1="287.65" x2="256.29" y2="461.40" class="gr"/>
<line x1="288.93" y1="287.65" x2="288.93" y2="461.40" class="gr"/>
<line x1="321.58" y1="287.65" x2="321.58" y2="461.40" class="gr"/>
<line x1="44.09" y1="448.50" x2="337.90" y2="448.50" class="gr"/>
<line x1="44.09" y1="425.17" x2="337.90" y2="425.17" class="gr"/>
<line x1="44.09" y1="401.83" x2="337.90" y2="401.83" class="gr"/>
<line x1="44.09" y1="378.50" x2="337.90" y2="378.50" class="gr"/>
<line x1="44.09" y1="355.17" x2="337.90" y2="355.17" class="gr"/>
<line x1="44.09" y1="331.83" x2="337.90" y2="331.83" class="gr"/>
<line x1="44.09" y1="308.50" x2="337.90" y2="308.50" class="gr"/>
<path d="M65.18,335.50 C65.41,336.08 66.06,337.75 66.53,339.00 C67.01,340.25 67.77,342.32 68.02,343.00 C68.28,343.68 67.68,342.18 68.05,343.10 C68.43,344.02 69.80,347.25 70.29,348.50 C70.77,349.75 70.70,349.65 70.96,350.60 C71.22,351.55 71.62,352.93 71.87,354.20 C72.11,355.47 72.28,356.73 72.45,358.20 C72.62,359.67 72.83,361.73 72.89,363.00 C72.96,364.27 72.91,364.50 72.84,365.80 C72.77,367.10 72.55,369.77 72.46,370.80 C72.36,371.83 72.66,370.70 72.27,372.00 C71.87,373.30 70.49,377.33 70.08,378.60 C69.67,379.87 70.05,378.17 69.80,379.60 C69.55,381.03 68.79,385.80 68.58,387.20 C68.38,388.60 68.54,386.75 68.57,388.00 C68.61,389.25 68.65,392.73 68.79,394.70 C68.92,396.67 69.20,398.53 69.36,399.80 C69.51,401.07 69.54,400.62 69.71,402.30 C69.89,403.98 70.30,408.33 70.41,409.90 C70.52,411.47 70.50,410.43 70.37,411.70 C70.25,412.97 70.05,415.53 69.66,417.50 C69.27,419.47 68.36,422.25 68.04,423.50 C67.71,424.75 67.92,424.00 67.71,425.00 C67.50,426.00 67.02,428.23 66.77,429.50 C66.51,430.77 66.37,431.63 66.18,432.60 C65.99,433.57 65.99,434.03 65.63,435.30 C65.28,436.57 64.37,439.08 64.05,440.20 C63.72,441.32 63.86,440.67 63.68,442.00 C63.51,443.33 63.09,447.17 62.97,448.20 L57.85,448.20 C57.73,447.17 57.32,443.33 57.14,442.00 C56.96,440.67 57.10,441.32 56.78,440.20 C56.45,439.08 55.55,436.57 55.19,435.30 C54.84,434.03 54.83,433.57 54.65,432.60 C54.46,431.63 54.32,430.77 54.06,429.50 C53.80,428.23 53.32,426.00 53.11,425.00 C52.90,424.00 53.11,424.75 52.79,423.50 C52.46,422.25 51.55,419.47 51.16,417.50 C50.77,415.53 50.58,412.97 50.45,411.70 C50.33,410.43 50.30,411.47 50.41,409.90 C50.52,408.33 50.94,403.98 51.11,402.30 C51.29,400.62 51.32,401.07 51.47,399.80 C51.62,398.53 51.91,396.67 52.04,394.70 C52.17,392.73 52.22,389.25 52.25,388.00 C52.29,386.75 52.45,388.60 52.24,387.20 C52.04,385.80 51.28,381.03 51.03,379.60 C50.78,378.17 51.16,379.87 50.75,378.60 C50.33,377.33 48.95,373.30 48.56,372.00 C48.16,370.70 48.47,371.83 48.37,370.80 C48.27,369.77 48.06,367.10 47.98,365.80 C47.91,364.50 47.87,364.27 47.93,363.00 C48.00,361.73 48.21,359.67 48.38,358.20 C48.55,356.73 48.71,355.47 48.96,354.20 C49.21,352.93 49.60,351.55 49.87,350.60 C50.13,349.65 50.06,349.75 50.54,348.50 C51.02,347.25 52.39,344.02 52.77,343.10 C53.15,342.18 52.55,343.68 52.80,343.00 C53.05,342.32 53.82,340.25 54.29,339.00 C54.77,337.75 55.42,336.08 55.65,335.50 Z" fill="#1f77b4" stroke="#3d3d3d" stroke-width="1.15" stroke-linejoin="miter" stroke-miterlimit="3"/><line x1="60.41" y1="335.50" x2="60.41" y2="448.20" stroke="#3d3d3d" stroke-width="0.9"/><rect x="58.96" y="359.00" width="2.9" height="53.20" fill="#3d3d3d"/><circle cx="60.41" cy="373.20" r="0.75" fill="#d0d0d0"/>
<path d="M95.51,335.50 C95.65,336.08 95.99,337.75 96.33,339.00 C96.68,340.25 97.35,342.32 97.57,343.00 C97.78,343.68 97.16,342.18 97.60,343.10 C98.04,344.02 99.62,347.25 100.21,348.50 C100.80,349.75 100.75,349.65 101.13,350.60 C101.51,351.55 102.04,352.93 102.48,354.20 C102.91,355.47 103.28,356.35 103.74,358.20 C104.19,360.05 104.95,364.03 105.20,365.30 C105.46,366.57 105.20,364.68 105.26,365.80 C105.31,366.92 105.51,370.25 105.53,372.00 C105.55,373.75 105.42,375.03 105.37,376.30 C105.33,377.57 105.32,377.78 105.25,379.60 C105.18,381.42 105.01,385.90 104.96,387.20 C104.90,388.50 105.06,386.15 104.94,387.40 C104.83,388.65 104.37,393.47 104.26,394.70 C104.14,395.93 104.41,393.53 104.24,394.80 C104.08,396.07 103.48,400.67 103.26,402.30 C103.03,403.93 103.16,403.33 102.89,404.60 C102.61,405.87 102.00,408.27 101.61,409.90 C101.22,411.53 100.84,413.13 100.56,414.40 C100.28,415.67 100.29,415.87 99.92,417.50 C99.54,419.13 98.61,422.95 98.30,424.20 C98.00,425.45 98.25,424.20 98.09,425.00 C97.93,425.80 97.62,427.48 97.35,429.00 C97.08,430.52 96.61,433.25 96.46,434.10 L89.66,434.10 C89.51,433.25 89.04,430.52 88.77,429.00 C88.50,427.48 88.18,425.80 88.02,425.00 C87.87,424.20 88.12,425.45 87.81,424.20 C87.51,422.95 86.57,419.13 86.20,417.50 C85.82,415.87 85.84,415.67 85.56,414.40 C85.28,413.13 84.90,411.53 84.51,409.90 C84.12,408.27 83.51,405.87 83.23,404.60 C82.96,403.33 83.09,403.93 82.86,402.30 C82.63,400.67 82.04,396.07 81.87,394.80 C81.71,393.53 81.98,395.93 81.86,394.70 C81.74,393.47 81.29,388.65 81.17,387.40 C81.06,386.15 81.21,388.50 81.16,387.20 C81.11,385.90 80.93,381.42 80.86,379.60 C80.79,377.78 80.79,377.57 80.74,376.30 C80.70,375.03 80.57,373.75 80.59,372.00 C80.61,370.25 80.81,366.92 80.86,365.80 C80.91,364.68 80.66,366.57 80.91,365.30 C81.17,364.03 81.92,360.05 82.38,358.20 C82.83,356.35 83.20,355.47 83.64,354.20 C84.07,352.93 84.61,351.55 84.98,350.60 C85.36,349.65 85.32,349.75 85.91,348.50 C86.50,347.25 88.08,344.02 88.52,343.10 C88.96,342.18 88.34,343.68 88.55,343.00 C88.76,342.32 89.44,340.25 89.78,339.00 C90.12,337.75 90.47,336.08 90.61,335.50 Z" fill="#ff7f0e" stroke="#3d3d3d" stroke-width="1.15" stroke-linejoin="miter" stroke-miterlimit="3"/><line x1="93.06" y1="335.50" x2="93.06" y2="434.10" stroke="#3d3d3d" stroke-width="0.9"/><rect x="91.61" y="360.00" width="2.9" height="40.50" fill="#3d3d3d"/><circle cx="93.06" cy="384.40" r="0.75" fill="#d0d0d0"/>
<path d="M130.80,321.50 C131.10,322.57 131.97,325.57 132.60,327.90 C133.24,330.23 134.02,332.98 134.60,335.50 C135.19,338.02 135.69,340.48 136.10,343.00 C136.52,345.52 136.72,348.07 137.10,350.60 C137.49,353.13 138.14,355.67 138.40,358.20 C138.67,360.73 138.82,363.83 138.70,365.80 C138.59,367.77 138.19,368.53 137.70,370.00 C137.22,371.47 136.47,373.05 135.80,374.60 C135.14,376.15 134.39,377.75 133.70,379.30 C133.02,380.85 132.30,382.37 131.70,383.90 C131.10,385.43 130.60,386.97 130.10,388.50 C129.60,390.03 129.12,391.55 128.70,393.10 C128.29,394.65 127.87,396.25 127.60,397.80 C127.34,399.35 127.22,400.87 127.10,402.40 C126.99,403.93 126.95,405.28 126.90,407.00 C126.85,408.72 126.82,411.75 126.80,412.70 L124.60,412.70 C124.59,411.75 124.55,408.72 124.50,407.00 C124.45,405.28 124.42,403.93 124.30,402.40 C124.19,400.87 124.07,399.35 123.80,397.80 C123.54,396.25 123.12,394.65 122.70,393.10 C122.29,391.55 121.80,390.03 121.30,388.50 C120.80,386.97 120.30,385.43 119.70,383.90 C119.10,382.37 118.39,380.85 117.70,379.30 C117.02,377.75 116.27,376.15 115.60,374.60 C114.94,373.05 114.19,371.47 113.70,370.00 C113.22,368.53 112.82,367.77 112.70,365.80 C112.59,363.83 112.74,360.73 113.00,358.20 C113.27,355.67 113.92,353.13 114.30,350.60 C114.69,348.07 114.89,345.52 115.30,343.00 C115.72,340.48 116.22,338.02 116.80,335.50 C117.39,332.98 118.17,330.23 118.80,327.90 C119.44,325.57 120.30,322.57 120.60,321.50 Z" fill="#2ca02c" stroke="#3d3d3d" stroke-width="1.15" stroke-linejoin="miter" stroke-miterlimit="3"/><line x1="125.70" y1="321.50" x2="125.70" y2="412.70" stroke="#3d3d3d" stroke-width="0.9"/><rect x="124.25" y="337.40" width="2.9" height="36.10" fill="#3d3d3d"/><circle cx="125.70" cy="360.50" r="0.75" fill="#d0d0d0"/>
<path d="M163.35,322.10 C163.36,322.13 163.21,321.33 163.42,322.30 C163.64,323.27 164.41,326.88 164.62,327.90 C164.84,328.92 164.35,327.13 164.71,328.40 C165.06,329.67 166.26,333.78 166.75,335.50 C167.24,337.22 167.29,337.45 167.63,338.70 C167.97,339.95 168.42,341.27 168.79,343.00 C169.16,344.73 169.64,347.83 169.85,349.10 C170.06,350.37 169.89,349.08 170.06,350.60 C170.24,352.12 170.74,356.73 170.90,358.20 C171.05,359.67 170.93,357.47 170.99,359.40 C171.06,361.33 171.23,367.70 171.28,369.80 C171.33,371.90 171.34,370.37 171.29,372.00 C171.24,373.63 171.06,377.87 170.96,379.60 C170.86,381.33 170.84,381.13 170.71,382.40 C170.57,383.67 170.38,385.48 170.15,387.20 C169.91,388.92 169.50,391.45 169.30,392.70 C169.10,393.95 169.26,393.10 168.97,394.70 C168.68,396.30 167.80,400.90 167.54,402.30 C167.28,403.70 167.62,401.83 167.39,403.10 C167.16,404.37 166.49,408.18 166.18,409.90 C165.87,411.62 165.78,412.13 165.54,413.40 C165.30,414.67 165.08,415.57 164.75,417.50 C164.42,419.43 163.75,423.75 163.55,425.00 L153.15,425.00 C152.95,423.75 152.28,419.43 151.95,417.50 C151.62,415.57 151.39,414.67 151.16,413.40 C150.92,412.13 150.83,411.62 150.52,409.90 C150.21,408.18 149.53,404.37 149.31,403.10 C149.08,401.83 149.42,403.70 149.16,402.30 C148.89,400.90 148.02,396.30 147.73,394.70 C147.44,393.10 147.60,393.95 147.40,392.70 C147.20,391.45 146.78,388.92 146.55,387.20 C146.31,385.48 146.13,383.67 145.99,382.40 C145.85,381.13 145.84,381.33 145.74,379.60 C145.64,377.87 145.46,373.63 145.41,372.00 C145.35,370.37 145.36,371.90 145.41,369.80 C145.46,367.70 145.64,361.33 145.71,359.40 C145.77,357.47 145.65,359.67 145.80,358.20 C145.96,356.73 146.46,352.12 146.63,350.60 C146.81,349.08 146.64,350.37 146.85,349.10 C147.06,347.83 147.53,344.73 147.90,343.00 C148.27,341.27 148.73,339.95 149.07,338.70 C149.41,337.45 149.46,337.22 149.95,335.50 C150.44,333.78 151.64,329.67 151.99,328.40 C152.35,327.13 151.86,328.92 152.08,327.90 C152.29,326.88 153.06,323.27 153.28,322.30 C153.49,321.33 153.34,322.13 153.35,322.10 Z" fill="#d62728" stroke="#3d3d3d" stroke-width="1.15" stroke-linejoin="miter" stroke-miterlimit="3"/><line x1="158.35" y1="322.10" x2="158.35" y2="425.00" stroke="#3d3d3d" stroke-width="0.9"/><rect x="156.90" y="349.80" width="2.9" height="38.80" fill="#3d3d3d"/><circle cx="158.35" cy="373.20" r="0.75" fill="#d0d0d0"/>
<path d="M199.44,320.60 C199.45,320.62 199.08,319.50 199.48,320.70 C199.89,321.90 201.47,326.60 201.87,327.80 C202.27,329.00 201.66,326.62 201.90,327.90 C202.13,329.18 202.97,333.53 203.29,335.50 C203.61,337.47 203.69,338.45 203.81,339.70 C203.92,340.95 203.96,341.18 203.99,343.00 C204.03,344.82 204.00,349.18 203.99,350.60 C203.99,352.02 204.05,350.23 203.95,351.50 C203.85,352.77 203.58,356.23 203.39,358.20 C203.21,360.17 203.00,362.03 202.85,363.30 C202.71,364.57 202.80,364.35 202.53,365.80 C202.25,367.25 201.54,370.43 201.20,372.00 C200.87,373.57 200.74,374.20 200.53,375.20 C200.33,376.20 200.10,377.27 199.96,378.00 C199.82,378.73 199.86,378.68 199.71,379.60 C199.56,380.52 199.27,382.23 199.06,383.50 C198.85,384.77 198.60,386.15 198.43,387.20 C198.26,388.25 198.26,388.55 198.04,389.80 C197.83,391.05 197.46,392.72 197.14,394.70 C196.81,396.68 196.27,400.43 196.08,401.70 C195.88,402.97 196.16,400.93 195.98,402.30 C195.79,403.67 195.19,408.03 194.95,409.90 C194.71,411.77 194.67,412.23 194.54,413.50 C194.41,414.77 194.32,415.58 194.18,417.50 C194.03,419.42 193.74,423.70 193.65,425.00 C193.56,426.30 193.70,423.58 193.64,425.30 C193.58,427.02 193.35,433.63 193.29,435.30 L188.69,435.30 C188.64,433.63 188.41,427.02 188.35,425.30 C188.29,423.58 188.43,426.30 188.34,425.00 C188.25,423.70 187.96,419.42 187.81,417.50 C187.67,415.58 187.58,414.77 187.45,413.50 C187.32,412.23 187.28,411.77 187.04,409.90 C186.80,408.03 186.20,403.67 186.01,402.30 C185.83,400.93 186.11,402.97 185.91,401.70 C185.72,400.43 185.18,396.68 184.85,394.70 C184.53,392.72 184.16,391.05 183.95,389.80 C183.73,388.55 183.73,388.25 183.56,387.20 C183.39,386.15 183.14,384.77 182.93,383.50 C182.72,382.23 182.43,380.52 182.28,379.60 C182.13,378.68 182.17,378.73 182.03,378.00 C181.89,377.27 181.66,376.20 181.46,375.20 C181.25,374.20 181.12,373.57 180.79,372.00 C180.45,370.43 179.74,367.25 179.46,365.80 C179.19,364.35 179.28,364.57 179.14,363.30 C178.99,362.03 178.78,360.17 178.59,358.20 C178.41,356.23 178.14,352.77 178.04,351.50 C177.94,350.23 178.00,352.02 177.99,350.60 C177.99,349.18 177.96,344.82 177.99,343.00 C178.03,341.18 178.07,340.95 178.18,339.70 C178.30,338.45 178.38,337.47 178.70,335.50 C179.02,333.53 179.86,329.18 180.09,327.90 C180.33,326.62 179.72,329.00 180.12,327.80 C180.52,326.60 182.10,321.90 182.51,320.70 C182.91,319.50 182.54,320.62 182.54,320.60 Z" fill="#9467bd" stroke="#3d3d3d" stroke-width="1.15" stroke-linejoin="miter" stroke-miterlimit="3"/><line x1="190.99" y1="320.60" x2="190.99" y2="426.50" stroke="#3d3d3d" stroke-width="0.9"/><rect x="189.54" y="333.60" width="2.9" height="41.40" fill="#3d3d3d"/><circle cx="190.99" cy="353.30" r="0.75" fill="#d0d0d0"/>
<path d="M225.64,310.00 C225.92,311.62 226.99,317.98 227.29,319.70 C227.59,321.42 227.10,318.93 227.44,320.30 C227.78,321.67 228.83,325.72 229.34,327.90 C229.85,330.08 230.25,332.13 230.52,333.40 C230.79,334.67 230.64,333.90 230.94,335.50 C231.24,337.10 231.99,341.07 232.34,343.00 C232.69,344.93 232.83,345.83 233.03,347.10 C233.24,348.37 233.36,348.75 233.59,350.60 C233.82,352.45 234.23,356.50 234.40,358.20 C234.57,359.90 234.41,358.50 234.60,360.80 C234.80,363.10 235.35,369.72 235.57,372.00 C235.78,374.28 235.72,373.50 235.88,374.50 C236.04,375.50 236.39,377.15 236.51,378.00 C236.63,378.85 236.62,378.07 236.60,379.60 C236.58,381.13 236.44,385.87 236.40,387.20 C236.36,388.53 236.39,386.80 236.36,387.60 C236.33,388.40 236.29,390.82 236.25,392.00 C236.21,393.18 236.17,393.83 236.10,394.70 C236.04,395.57 236.06,395.93 235.85,397.20 C235.65,398.47 235.18,400.70 234.87,402.30 C234.55,403.90 234.24,405.53 233.95,406.80 C233.67,408.07 233.37,409.12 233.17,409.90 C232.97,410.68 233.08,410.40 232.75,411.50 C232.42,412.60 231.52,415.50 231.21,416.50 C230.89,417.50 231.05,416.92 230.87,417.50 C230.69,418.08 230.47,418.75 230.12,420.00 C229.76,421.25 229.04,423.83 228.73,425.00 C228.41,426.17 228.50,425.73 228.21,427.00 C227.91,428.27 227.21,431.43 226.96,432.60 C226.71,433.77 226.87,432.70 226.70,434.00 C226.54,435.30 226.11,439.22 225.97,440.40 C225.83,441.58 226.01,439.87 225.89,441.10 C225.77,442.33 225.36,446.63 225.25,447.80 C225.14,448.97 225.24,447.15 225.23,448.10 C225.21,449.05 225.15,452.60 225.14,453.50 L222.14,453.50 C222.13,452.60 222.07,449.05 222.06,448.10 C222.04,447.15 222.14,448.97 222.03,447.80 C221.92,446.63 221.51,442.33 221.39,441.10 C221.27,439.87 221.45,441.58 221.31,440.40 C221.18,439.22 220.75,435.30 220.58,434.00 C220.42,432.70 220.57,433.77 220.32,432.60 C220.07,431.43 219.37,428.27 219.07,427.00 C218.78,425.73 218.87,426.17 218.55,425.00 C218.24,423.83 217.52,421.25 217.16,420.00 C216.81,418.75 216.59,418.08 216.41,417.50 C216.23,416.92 216.39,417.50 216.08,416.50 C215.76,415.50 214.86,412.60 214.53,411.50 C214.20,410.40 214.31,410.68 214.11,409.90 C213.91,409.12 213.61,408.07 213.33,406.80 C213.04,405.53 212.73,403.90 212.42,402.30 C212.10,400.70 211.63,398.47 211.43,397.20 C211.22,395.93 211.24,395.57 211.18,394.70 C211.11,393.83 211.08,393.18 211.03,392.00 C210.99,390.82 210.95,388.40 210.92,387.60 C210.90,386.80 210.92,388.53 210.88,387.20 C210.84,385.87 210.70,381.13 210.68,379.60 C210.66,378.07 210.65,378.85 210.77,378.00 C210.89,377.15 211.25,375.50 211.40,374.50 C211.56,373.50 211.50,374.28 211.71,372.00 C211.93,369.72 212.48,363.10 212.68,360.80 C212.87,358.50 212.71,359.90 212.88,358.20 C213.05,356.50 213.46,352.45 213.69,350.60 C213.92,348.75 214.04,348.37 214.25,347.10 C214.46,345.83 214.59,344.93 214.94,343.00 C215.29,341.07 216.04,337.10 216.34,335.50 C216.64,333.90 216.49,334.67 216.76,333.40 C217.03,332.13 217.43,330.08 217.94,327.90 C218.45,325.72 219.50,321.67 219.84,320.30 C220.18,318.93 219.69,321.42 219.99,319.70 C220.29,317.98 221.37,311.62 221.64,310.00 Z" fill="#8c564b" stroke="#3d3d3d" stroke-width="1.15" stroke-linejoin="miter" stroke-miterlimit="3"/><line x1="223.64" y1="310.00" x2="223.64" y2="453.50" stroke="#3d3d3d" stroke-width="0.9"/><rect x="222.19" y="350.90" width="2.9" height="48.70" fill="#3d3d3d"/><circle cx="223.64" cy="385.30" r="0.75" fill="#d0d0d0"/>
<path d="M259.19,335.20 C259.75,336.50 261.83,341.38 262.54,343.00 C263.26,344.62 262.83,343.63 263.45,344.90 C264.07,346.17 265.44,348.43 266.29,350.60 C267.13,352.77 268.15,356.63 268.53,357.90 C268.92,359.17 268.49,356.88 268.59,358.20 C268.69,359.52 269.11,363.70 269.11,365.80 C269.11,367.90 268.70,369.77 268.57,370.80 C268.45,371.83 268.62,370.97 268.36,372.00 C268.11,373.03 267.40,375.73 267.05,377.00 C266.70,378.27 266.60,378.48 266.24,379.60 C265.88,380.72 265.35,382.43 264.87,383.70 C264.39,384.97 263.73,386.32 263.35,387.20 C262.98,388.08 263.09,387.85 262.61,389.00 C262.13,390.15 260.86,393.15 260.47,394.10 C260.08,395.05 260.44,393.97 260.27,394.70 C260.11,395.43 259.62,397.87 259.49,398.50 L253.09,398.50 C252.96,397.87 252.46,395.43 252.30,394.70 C252.14,393.97 252.49,395.05 252.10,394.10 C251.71,393.15 250.45,390.15 249.97,389.00 C249.49,387.85 249.60,388.08 249.22,387.20 C248.84,386.32 248.18,384.97 247.70,383.70 C247.22,382.43 246.69,380.72 246.33,379.60 C245.97,378.48 245.88,378.27 245.52,377.00 C245.17,375.73 244.46,373.03 244.21,372.00 C243.96,370.97 244.12,371.83 244.00,370.80 C243.88,369.77 243.47,367.90 243.46,365.80 C243.46,363.70 243.89,359.52 243.98,358.20 C244.08,356.88 243.66,359.17 244.04,357.90 C244.43,356.63 245.44,352.77 246.29,350.60 C247.13,348.43 248.50,346.17 249.12,344.90 C249.75,343.63 249.32,344.62 250.03,343.00 C250.74,341.38 252.83,336.50 253.39,335.20 Z" fill="#e377c2" stroke="#3d3d3d" stroke-width="1.15" stroke-linejoin="miter" stroke-miterlimit="3"/><line x1="256.29" y1="335.20" x2="256.29" y2="398.50" stroke="#3d3d3d" stroke-width="0.9"/><rect x="254.84" y="355.90" width="2.9" height="20.10" fill="#3d3d3d"/><circle cx="256.29" cy="361.50" r="0.75" fill="#d0d0d0"/>
<path d="M291.43,335.20 C291.48,336.17 291.62,339.70 291.70,341.00 C291.79,342.30 291.74,341.85 291.94,343.00 C292.15,344.15 292.66,346.63 292.94,347.90 C293.22,349.17 293.27,349.28 293.65,350.60 C294.02,351.92 294.79,354.53 295.21,355.80 C295.63,357.07 295.69,356.87 296.18,358.20 C296.66,359.53 297.68,362.53 298.11,363.80 C298.53,365.07 298.29,364.48 298.73,365.80 C299.18,367.12 300.42,370.67 300.77,371.70 C301.12,372.73 300.64,370.68 300.85,372.00 C301.06,373.32 301.83,378.32 302.03,379.60 C302.22,380.88 302.20,378.43 302.03,379.70 C301.87,380.97 301.22,385.88 301.04,387.20 C300.86,388.52 301.36,386.35 300.94,387.60 C300.53,388.85 298.99,393.37 298.55,394.70 C298.12,396.03 298.53,394.33 298.31,395.60 C298.09,396.87 297.45,400.98 297.24,402.30 C297.04,403.62 297.27,402.23 297.10,403.50 C296.94,404.77 296.58,408.13 296.25,409.90 C295.92,411.67 295.32,413.40 295.13,414.10 L282.73,414.10 C282.55,413.40 281.94,411.67 281.61,409.90 C281.28,408.13 280.93,404.77 280.76,403.50 C280.60,402.23 280.82,403.62 280.62,402.30 C280.42,400.98 279.77,396.87 279.55,395.60 C279.33,394.33 279.75,396.03 279.31,394.70 C278.87,393.37 277.33,388.85 276.92,387.60 C276.50,386.35 277.00,388.52 276.82,387.20 C276.64,385.88 276.00,380.97 275.83,379.70 C275.67,378.43 275.64,380.88 275.84,379.60 C276.03,378.32 276.81,373.32 277.02,372.00 C277.23,370.68 276.74,372.73 277.09,371.70 C277.44,370.67 278.69,367.12 279.13,365.80 C279.57,364.48 279.33,365.07 279.76,363.80 C280.18,362.53 281.20,359.53 281.69,358.20 C282.17,356.87 282.23,357.07 282.65,355.80 C283.07,354.53 283.84,351.92 284.22,350.60 C284.60,349.28 284.64,349.17 284.92,347.90 C285.21,346.63 285.71,344.15 285.92,343.00 C286.12,341.85 286.07,342.30 286.16,341.00 C286.24,339.70 286.39,336.17 286.43,335.20 Z" fill="#7f7f7f" stroke="#3d3d3d" stroke-width="1.15" stroke-linejoin="miter" stroke-miterlimit="3"/><line x1="288.93" y1="346.00" x2="288.93" y2="414.10" stroke="#3d3d3d" stroke-width="0.9"/><rect x="287.48" y="371.00" width="2.9" height="26.00" fill="#3d3d3d"/><circle cx="288.93" cy="385.30" r="0.75" fill="#d0d0d0"/>
<path d="M322.18,295.30 C322.18,296.92 322.17,302.10 322.18,305.00 C322.19,307.90 322.19,310.53 322.23,312.70 C322.27,314.87 322.34,316.45 322.43,318.00 C322.52,319.55 322.69,320.83 322.78,322.00 C322.87,323.17 322.74,323.73 322.98,325.00 C323.21,326.27 323.76,328.07 324.18,329.60 C324.59,331.13 325.04,332.65 325.48,334.20 C325.91,335.75 326.38,337.35 326.78,338.90 C327.18,340.45 327.45,341.97 327.88,343.50 C328.30,345.03 328.85,346.57 329.33,348.10 C329.80,349.63 330.25,351.17 330.73,352.70 C331.20,354.23 331.72,355.77 332.18,357.30 C332.64,358.83 333.16,360.35 333.48,361.90 C333.79,363.45 333.91,365.05 334.08,366.60 C334.24,368.15 334.37,370.13 334.48,371.20 C334.58,372.27 334.68,372.37 334.70,373.00 C334.73,373.63 334.77,374.17 334.62,375.00 C334.46,375.83 334.12,376.70 333.78,378.00 C333.44,379.30 332.98,381.18 332.58,382.80 C332.18,384.42 331.78,386.07 331.38,387.70 C330.98,389.33 330.54,390.97 330.18,392.60 C329.81,394.23 329.51,395.87 329.18,397.50 C328.84,399.13 328.54,400.77 328.18,402.40 C327.82,404.03 327.41,405.67 327.03,407.30 C326.64,408.93 326.32,410.42 325.88,412.20 C325.44,413.98 324.70,416.70 324.39,418.00 C324.08,419.30 324.11,419.10 324.00,420.00 C323.90,420.90 323.81,422.83 323.78,423.40 L319.38,423.40 C319.34,422.83 319.25,420.90 319.15,420.00 C319.05,419.10 319.07,419.30 318.76,418.00 C318.45,416.70 317.72,413.98 317.28,412.20 C316.84,410.42 316.51,408.93 316.13,407.30 C315.74,405.67 315.34,404.03 314.98,402.40 C314.62,400.77 314.31,399.13 313.98,397.50 C313.64,395.87 313.34,394.23 312.98,392.60 C312.61,390.97 312.18,389.33 311.78,387.70 C311.38,386.07 310.98,384.42 310.58,382.80 C310.18,381.18 309.72,379.30 309.38,378.00 C309.04,376.70 308.69,375.83 308.54,375.00 C308.38,374.17 308.43,373.63 308.45,373.00 C308.47,372.37 308.57,372.27 308.68,371.20 C308.78,370.13 308.91,368.15 309.08,366.60 C309.24,365.05 309.36,363.45 309.68,361.90 C309.99,360.35 310.52,358.83 310.98,357.30 C311.44,355.77 311.95,354.23 312.43,352.70 C312.90,351.17 313.35,349.63 313.83,348.10 C314.30,346.57 314.85,345.03 315.28,343.50 C315.70,341.97 315.98,340.45 316.38,338.90 C316.78,337.35 317.24,335.75 317.68,334.20 C318.11,332.65 318.56,331.13 318.98,329.60 C319.39,328.07 319.94,326.27 320.18,325.00 C320.41,323.73 320.29,323.17 320.38,322.00 C320.47,320.83 320.64,319.55 320.73,318.00 C320.82,316.45 320.89,314.87 320.93,312.70 C320.97,310.53 320.97,307.90 320.98,305.00 C320.99,302.10 320.98,296.92 320.98,295.30 Z" fill="#bcbd22" stroke="#3d3d3d" stroke-width="1.15" stroke-linejoin="miter" stroke-miterlimit="3"/><line x1="321.58" y1="334.00" x2="321.58" y2="423.40" stroke="#3d3d3d" stroke-width="0.9"/><rect x="320.13" y="358.10" width="2.9" height="28.10" fill="#3d3d3d"/><circle cx="321.58" cy="373.20" r="0.75" fill="#d0d0d0"/>
<rect x="44.09" y="287.65" width="293.81" height="173.75" class="sp"/>
<line x1="60.41" y1="461.40" x2="60.41" y2="464.80" class="tk"/>
<text x="0.00" y="0.00" font-size="10.20" text-anchor="end" textLength="62.11" lengthAdjust="spacingAndGlyphs" transform="translate(63.06,468.30) rotate(-90)">Logistic Reg.</text>
<line x1="93.06" y1="461.40" x2="93.06" y2="464.80" class="tk"/>
<text x="0.00" y="0.00" font-size="10.20" text-anchor="end" textLength="54.39" lengthAdjust="spacingAndGlyphs" transform="translate(95.71,468.30) rotate(-90)">Linear SVM</text>
<line x1="125.70" y1="461.40" x2="125.70" y2="464.80" class="tk"/>
<text x="0.00" y="0.00" font-size="10.20" text-anchor="end" textLength="43.22" lengthAdjust="spacingAndGlyphs" transform="translate(128.35,468.30) rotate(-90)">RBF SVM</text>
<line x1="158.35" y1="461.40" x2="158.35" y2="464.80" class="tk"/>
<text x="0.00" y="0.00" font-size="10.20" text-anchor="end" textLength="73.78" lengthAdjust="spacingAndGlyphs" transform="translate(161.00,468.30) rotate(-90)">Random Forest</text>
<line x1="190.99" y1="461.40" x2="190.99" y2="464.80" class="tk"/>
<text x="0.00" y="0.00" font-size="10.20" text-anchor="end" textLength="19.62" lengthAdjust="spacingAndGlyphs" transform="translate(193.64,468.30) rotate(-90)">MLP</text>
<line x1="223.64" y1="461.40" x2="223.64" y2="464.80" class="tk"/>
<text x="0.00" y="0.00" font-size="10.20" text-anchor="end" textLength="45.62" lengthAdjust="spacingAndGlyphs" transform="translate(226.29,468.30) rotate(-90)">Adaboost</text>
<line x1="256.29" y1="461.40" x2="256.29" y2="464.80" class="tk"/>
<text x="0.00" y="0.00" font-size="10.20" text-anchor="end" textLength="60.05" lengthAdjust="spacingAndGlyphs" transform="translate(258.94,468.30) rotate(-90)">Naïve Bayes</text>
<line x1="288.93" y1="461.40" x2="288.93" y2="464.80" class="tk"/>
<text x="0.00" y="0.00" font-size="10.20" text-anchor="end" textLength="21.74" lengthAdjust="spacingAndGlyphs" transform="translate(291.58,468.30) rotate(-90)">QDA</text>
<line x1="321.58" y1="461.40" x2="321.58" y2="464.80" class="tk"/>
<text x="0.00" y="0.00" font-size="10.20" text-anchor="end" textLength="19.51" lengthAdjust="spacingAndGlyphs" transform="translate(324.23,468.30) rotate(-90)">LDA</text>
<line x1="40.69" y1="448.50" x2="44.09" y2="448.50" class="tk"/>
<text x="37.29" y="452.20" font-size="10.20" text-anchor="end" textLength="21.60" lengthAdjust="spacingAndGlyphs">0.78</text>
<line x1="40.69" y1="425.17" x2="44.09" y2="425.17" class="tk"/>
<text x="37.29" y="428.87" font-size="10.20" text-anchor="end" textLength="21.60" lengthAdjust="spacingAndGlyphs">0.80</text>
<line x1="40.69" y1="401.83" x2="44.09" y2="401.83" class="tk"/>
<text x="37.29" y="405.53" font-size="10.20" text-anchor="end" textLength="21.60" lengthAdjust="spacingAndGlyphs">0.82</text>
<line x1="40.69" y1="378.50" x2="44.09" y2="378.50" class="tk"/>
<text x="37.29" y="382.20" font-size="10.20" text-anchor="end" textLength="21.60" lengthAdjust="spacingAndGlyphs">0.84</text>
<line x1="40.69" y1="355.17" x2="44.09" y2="355.17" class="tk"/>
<text x="37.29" y="358.87" font-size="10.20" text-anchor="end" textLength="21.60" lengthAdjust="spacingAndGlyphs">0.86</text>
<line x1="40.69" y1="331.83" x2="44.09" y2="331.83" class="tk"/>
<text x="37.29" y="335.53" font-size="10.20" text-anchor="end" textLength="21.60" lengthAdjust="spacingAndGlyphs">0.88</text>
<line x1="40.69" y1="308.50" x2="44.09" y2="308.50" class="tk"/>
<text x="37.29" y="312.20" font-size="10.20" text-anchor="end" textLength="21.60" lengthAdjust="spacingAndGlyphs">0.90</text>
<text x="0.00" y="0.00" font-size="10.20" text-anchor="middle" textLength="44.46" lengthAdjust="spacingAndGlyphs" transform="translate(9.19,374.52) rotate(-90)">Accuracy</text>
<text x="0.69" y="287.55" font-size="15.20" text-anchor="start" font-weight="bold" style="stroke-width:0.55px" textLength="17.15" lengthAdjust="spacingAndGlyphs">C)</text>
<line x1="407.45" y1="287.65" x2="407.45" y2="461.40" class="gr"/>
<line x1="440.10" y1="287.65" x2="440.10" y2="461.40" class="gr"/>
<line x1="472.74" y1="287.65" x2="472.74" y2="461.40" class="gr"/>
<line x1="505.39" y1="287.65" x2="505.39" y2="461.40" class="gr"/>
<line x1="538.03" y1="287.65" x2="538.03" y2="461.40" class="gr"/>
<line x1="570.67" y1="287.65" x2="570.67" y2="461.40" class="gr"/>
<line x1="603.32" y1="287.65" x2="603.32" y2="461.40" class="gr"/>
<line x1="635.96" y1="287.65" x2="635.96" y2="461.40" class="gr"/>
<line x1="668.61" y1="287.65" x2="668.61" y2="461.40" class="gr"/>
<line x1="391.13" y1="446.70" x2="684.93" y2="446.70" class="gr"/>
<line x1="391.13" y1="419.16" x2="684.93" y2="419.16" class="gr"/>
<line x1="391.13" y1="391.62" x2="684.93" y2="391.62" class="gr"/>
<line x1="391.13" y1="364.08" x2="684.93" y2="364.08" class="gr"/>
<line x1="391.13" y1="336.54" x2="684.93" y2="336.54" class="gr"/>
<line x1="391.13" y1="309.00" x2="684.93" y2="309.00" class="gr"/>
<path d="M411.95,335.50 C412.19,336.08 412.87,337.75 413.37,339.00 C413.86,340.25 414.65,342.32 414.92,343.00 C415.18,343.68 414.54,342.18 414.95,343.10 C415.36,344.02 416.85,347.25 417.38,348.50 C417.90,349.75 417.82,349.65 418.10,350.60 C418.38,351.55 418.80,352.93 419.07,354.20 C419.33,355.47 419.51,356.73 419.69,358.20 C419.87,359.67 420.07,361.73 420.15,363.00 C420.23,364.27 420.23,364.50 420.15,365.80 C420.07,367.10 419.80,369.77 419.69,370.80 C419.57,371.83 419.81,370.70 419.45,372.00 C419.09,373.30 417.88,377.33 417.52,378.60 C417.15,379.87 417.54,378.17 417.26,379.60 C416.98,381.03 416.09,385.80 415.84,387.20 C415.60,388.60 415.76,386.75 415.80,388.00 C415.85,389.25 415.93,392.73 416.10,394.70 C416.26,396.67 416.63,398.53 416.81,399.80 C417.00,401.07 417.04,400.62 417.19,402.30 C417.35,403.98 417.65,408.33 417.72,409.90 C417.79,411.47 417.79,410.43 417.60,411.70 C417.40,412.97 417.01,415.53 416.55,417.50 C416.10,419.47 415.23,422.25 414.88,423.50 C414.53,424.75 414.86,423.48 414.46,425.00 C414.07,426.52 412.97,430.88 412.53,432.60 C412.09,434.32 412.12,434.03 411.82,435.30 C411.52,436.57 411.02,438.07 410.73,440.20 C410.43,442.33 410.16,446.78 410.05,448.10 L404.85,448.10 C404.74,446.78 404.47,442.33 404.18,440.20 C403.88,438.07 403.38,436.57 403.08,435.30 C402.78,434.03 402.82,434.32 402.38,432.60 C401.93,430.88 400.83,426.52 400.44,425.00 C400.05,423.48 400.37,424.75 400.03,423.50 C399.68,422.25 398.81,419.47 398.35,417.50 C397.90,415.53 397.50,412.97 397.31,411.70 C397.11,410.43 397.12,411.47 397.18,409.90 C397.25,408.33 397.56,403.98 397.71,402.30 C397.86,400.62 397.91,401.07 398.09,399.80 C398.27,398.53 398.64,396.67 398.81,394.70 C398.98,392.73 399.06,389.25 399.10,388.00 C399.14,386.75 399.30,388.60 399.06,387.20 C398.82,385.80 397.92,381.03 397.64,379.60 C397.36,378.17 397.75,379.87 397.39,378.60 C397.02,377.33 395.81,373.30 395.45,372.00 C395.09,370.70 395.34,371.83 395.22,370.80 C395.10,369.77 394.83,367.10 394.75,365.80 C394.67,364.50 394.68,364.27 394.75,363.00 C394.83,361.73 395.03,359.67 395.22,358.20 C395.40,356.73 395.57,355.47 395.84,354.20 C396.10,352.93 396.52,351.55 396.80,350.60 C397.09,349.65 397.00,349.75 397.53,348.50 C398.05,347.25 399.55,344.02 399.96,343.10 C400.37,342.18 399.73,343.68 399.99,343.00 C400.25,342.32 401.04,340.25 401.54,339.00 C402.03,337.75 402.72,336.08 402.95,335.50 Z" fill="#1f77b4" stroke="#3d3d3d" stroke-width="1.15" stroke-linejoin="miter" stroke-miterlimit="3"/><line x1="407.45" y1="335.50" x2="407.45" y2="448.10" stroke="#3d3d3d" stroke-width="0.9"/><rect x="406.00" y="359.00" width="2.9" height="51.60" fill="#3d3d3d"/><circle cx="407.45" cy="374.30" r="0.75" fill="#d0d0d0"/>
<path d="M444.10,343.00 C444.60,344.00 446.48,347.73 447.09,349.00 C447.71,350.27 447.43,349.60 447.79,350.60 C448.15,351.60 448.79,353.73 449.23,355.00 C449.67,356.27 449.97,356.78 450.42,358.20 C450.87,359.62 451.62,362.23 451.93,363.50 C452.24,364.77 452.14,364.38 452.30,365.80 C452.46,367.22 452.80,369.70 452.90,372.00 C453.00,374.30 452.90,378.18 452.90,379.60 C452.89,381.02 452.91,379.23 452.88,380.50 C452.85,381.77 452.77,385.78 452.71,387.20 C452.66,388.62 452.73,387.75 452.57,389.00 C452.41,390.25 451.98,393.28 451.75,394.70 C451.51,396.12 451.47,396.23 451.17,397.50 C450.88,398.77 450.32,400.88 449.96,402.30 C449.61,403.72 449.32,404.73 449.04,406.00 C448.76,407.27 448.58,408.48 448.28,409.90 C447.98,411.32 447.55,413.23 447.25,414.50 C446.95,415.77 446.88,415.62 446.47,417.50 C446.06,419.38 445.08,424.42 444.80,425.80 L435.40,425.80 C435.12,424.42 434.13,419.38 433.72,417.50 C433.31,415.62 433.24,415.77 432.94,414.50 C432.64,413.23 432.21,411.32 431.91,409.90 C431.62,408.48 431.43,407.27 431.15,406.00 C430.87,404.73 430.59,403.72 430.23,402.30 C429.88,400.88 429.32,398.77 429.02,397.50 C428.72,396.23 428.68,396.12 428.45,394.70 C428.21,393.28 427.78,390.25 427.62,389.00 C427.46,387.75 427.53,388.62 427.48,387.20 C427.43,385.78 427.34,381.77 427.31,380.50 C427.28,379.23 427.30,381.02 427.30,379.60 C427.29,378.18 427.20,374.30 427.30,372.00 C427.40,369.70 427.74,367.22 427.90,365.80 C428.06,364.38 427.95,364.77 428.26,363.50 C428.58,362.23 429.32,359.62 429.77,358.20 C430.22,356.78 430.53,356.27 430.97,355.00 C431.41,353.73 432.05,351.60 432.40,350.60 C432.76,349.60 432.49,350.27 433.10,349.00 C433.72,347.73 435.60,344.00 436.10,343.00 Z" fill="#ff7f0e" stroke="#3d3d3d" stroke-width="1.15" stroke-linejoin="miter" stroke-miterlimit="3"/><line x1="440.10" y1="343.00" x2="440.10" y2="425.80" stroke="#3d3d3d" stroke-width="0.9"/><rect x="438.65" y="360.90" width="2.9" height="38.80" fill="#3d3d3d"/><circle cx="440.10" cy="385.30" r="0.75" fill="#d0d0d0"/>
<path d="M477.54,325.30 C477.97,326.48 479.34,329.95 480.14,332.40 C480.94,334.85 481.69,337.47 482.34,340.00 C482.99,342.53 483.52,345.07 484.04,347.60 C484.56,350.13 485.09,352.68 485.44,355.20 C485.79,357.72 486.21,360.57 486.14,362.70 C486.07,364.83 485.46,366.35 485.04,368.00 C484.62,369.65 484.22,371.05 483.64,372.60 C483.06,374.15 482.24,375.75 481.54,377.30 C480.84,378.85 480.07,380.37 479.44,381.90 C478.81,383.43 478.26,384.97 477.74,386.50 C477.22,388.03 476.76,389.55 476.34,391.10 C475.92,392.65 475.53,394.25 475.24,395.80 C474.95,397.35 474.76,398.87 474.59,400.40 C474.42,401.93 474.32,403.47 474.24,405.00 C474.16,406.53 474.12,408.18 474.09,409.60 C474.06,411.02 474.05,412.85 474.04,413.50 L471.44,413.50 C471.43,412.85 471.42,411.02 471.39,409.60 C471.36,408.18 471.32,406.53 471.24,405.00 C471.16,403.47 471.06,401.93 470.89,400.40 C470.72,398.87 470.53,397.35 470.24,395.80 C469.95,394.25 469.56,392.65 469.14,391.10 C468.72,389.55 468.26,388.03 467.74,386.50 C467.22,384.97 466.67,383.43 466.04,381.90 C465.41,380.37 464.64,378.85 463.94,377.30 C463.24,375.75 462.42,374.15 461.84,372.60 C461.26,371.05 460.86,369.65 460.44,368.00 C460.02,366.35 459.41,364.83 459.34,362.70 C459.27,360.57 459.69,357.72 460.04,355.20 C460.39,352.68 460.92,350.13 461.44,347.60 C461.96,345.07 462.49,342.53 463.14,340.00 C463.79,337.47 464.54,334.85 465.34,332.40 C466.14,329.95 467.51,326.48 467.94,325.30 Z" fill="#2ca02c" stroke="#3d3d3d" stroke-width="1.15" stroke-linejoin="miter" stroke-miterlimit="3"/><line x1="472.74" y1="325.30" x2="472.74" y2="413.50" stroke="#3d3d3d" stroke-width="0.9"/><rect x="471.29" y="342.70" width="2.9" height="31.60" fill="#3d3d3d"/><circle cx="472.74" cy="361.20" r="0.75" fill="#d0d0d0"/>
<path d="M510.14,323.60 C510.30,324.50 510.84,327.78 511.09,329.00 C511.35,330.22 511.20,329.32 511.65,330.90 C512.10,332.48 513.42,337.15 513.80,338.50 C514.17,339.85 513.59,337.73 513.91,339.00 C514.23,340.27 515.30,344.43 515.71,346.10 C516.11,347.77 516.12,347.75 516.36,349.00 C516.61,350.25 516.94,351.93 517.17,353.60 C517.40,355.27 517.62,357.73 517.74,359.00 C517.85,360.27 517.78,359.37 517.86,361.20 C517.94,363.03 518.15,368.20 518.22,370.00 C518.28,371.80 518.28,370.40 518.24,372.00 C518.19,373.60 517.99,378.27 517.94,379.60 C517.88,380.93 518.02,378.73 517.91,380.00 C517.80,381.27 517.45,385.53 517.27,387.20 C517.10,388.87 517.06,388.75 516.85,390.00 C516.64,391.25 516.32,393.03 516.01,394.70 C515.70,396.37 515.24,398.73 515.00,400.00 C514.75,401.27 514.87,400.65 514.56,402.30 C514.25,403.95 513.38,408.62 513.13,409.90 C512.89,411.18 513.37,408.73 513.12,410.00 C512.87,411.27 512.07,415.55 511.64,417.50 C511.21,419.45 510.72,421.00 510.54,421.70 L500.24,421.70 C500.05,421.00 499.57,419.45 499.14,417.50 C498.71,415.55 497.91,411.27 497.66,410.00 C497.41,408.73 497.88,411.18 497.64,409.90 C497.40,408.62 496.52,403.95 496.21,402.30 C495.90,400.65 496.02,401.27 495.78,400.00 C495.53,398.73 495.07,396.37 494.76,394.70 C494.45,393.03 494.13,391.25 493.92,390.00 C493.71,388.75 493.68,388.87 493.50,387.20 C493.32,385.53 492.97,381.27 492.86,380.00 C492.75,378.73 492.89,380.93 492.84,379.60 C492.78,378.27 492.58,373.60 492.54,372.00 C492.49,370.40 492.49,371.80 492.55,370.00 C492.62,368.20 492.84,363.03 492.92,361.20 C493.00,359.37 492.92,360.27 493.03,359.00 C493.15,357.73 493.37,355.27 493.60,353.60 C493.83,351.93 494.17,350.25 494.41,349.00 C494.66,347.75 494.66,347.77 495.07,346.10 C495.47,344.43 496.54,340.27 496.86,339.00 C497.18,337.73 496.60,339.85 496.98,338.50 C497.35,337.15 498.67,332.48 499.12,330.90 C499.57,329.32 499.43,330.22 499.68,329.00 C499.93,327.78 500.48,324.50 500.64,323.60 Z" fill="#d62728" stroke="#3d3d3d" stroke-width="1.15" stroke-linejoin="miter" stroke-miterlimit="3"/><line x1="505.39" y1="323.60" x2="505.39" y2="421.70" stroke="#3d3d3d" stroke-width="0.9"/><rect x="503.94" y="349.80" width="2.9" height="39.60" fill="#3d3d3d"/><circle cx="505.39" cy="373.20" r="0.75" fill="#d0d0d0"/>
<path d="M546.68,324.50 C547.04,325.57 548.43,329.68 548.82,330.90 C549.20,332.12 548.76,330.53 548.99,331.80 C549.23,333.07 549.91,336.52 550.23,338.50 C550.55,340.48 550.77,342.43 550.90,343.70 C551.04,344.97 551.01,344.45 551.03,346.10 C551.05,347.75 551.04,352.03 551.03,353.60 C551.02,355.17 551.06,354.23 550.95,355.50 C550.83,356.77 550.62,359.23 550.33,361.20 C550.05,363.17 549.56,365.50 549.24,367.30 C548.91,369.10 548.64,370.72 548.39,372.00 C548.14,373.28 548.00,373.73 547.73,375.00 C547.45,376.27 546.93,378.77 546.76,379.60 C546.59,380.43 546.82,379.10 546.69,380.00 C546.56,380.90 546.17,383.80 546.00,385.00 C545.83,386.20 545.85,386.07 545.64,387.20 C545.43,388.33 545.00,390.55 544.75,391.80 C544.49,393.05 544.42,392.95 544.10,394.70 C543.79,396.45 543.10,400.80 542.87,402.30 C542.64,403.80 542.85,402.43 542.72,403.70 C542.58,404.97 542.30,407.93 542.07,409.90 C541.85,411.87 541.52,414.23 541.36,415.50 C541.20,416.77 541.25,415.92 541.13,417.50 C541.01,419.08 540.75,423.37 540.64,425.00 C540.53,426.63 540.55,426.03 540.48,427.30 C540.41,428.57 540.30,430.20 540.22,432.60 C540.15,435.00 540.06,440.18 540.03,441.70 L536.03,441.70 C536.00,440.18 535.91,435.00 535.84,432.60 C535.76,430.20 535.65,428.57 535.58,427.30 C535.51,426.03 535.53,426.63 535.42,425.00 C535.31,423.37 535.05,419.08 534.93,417.50 C534.81,415.92 534.86,416.77 534.70,415.50 C534.54,414.23 534.21,411.87 533.99,409.90 C533.76,407.93 533.48,404.97 533.34,403.70 C533.21,402.43 533.42,403.80 533.19,402.30 C532.96,400.80 532.27,396.45 531.96,394.70 C531.64,392.95 531.57,393.05 531.31,391.80 C531.06,390.55 530.63,388.33 530.42,387.20 C530.21,386.07 530.23,386.20 530.06,385.00 C529.89,383.80 529.50,380.90 529.37,380.00 C529.24,379.10 529.47,380.43 529.30,379.60 C529.13,378.77 528.61,376.27 528.33,375.00 C528.06,373.73 527.92,373.28 527.67,372.00 C527.42,370.72 527.15,369.10 526.82,367.30 C526.50,365.50 526.01,363.17 525.73,361.20 C525.44,359.23 525.23,356.77 525.11,355.50 C525.00,354.23 525.04,355.17 525.03,353.60 C525.02,352.03 525.01,347.75 525.03,346.10 C525.05,344.45 525.02,344.97 525.16,343.70 C525.29,342.43 525.51,340.48 525.83,338.50 C526.15,336.52 526.83,333.07 527.07,331.80 C527.30,330.53 526.86,332.12 527.24,330.90 C527.63,329.68 529.02,325.57 529.38,324.50 Z" fill="#9467bd" stroke="#3d3d3d" stroke-width="1.15" stroke-linejoin="miter" stroke-miterlimit="3"/><line x1="538.03" y1="324.50" x2="538.03" y2="438.70" stroke="#3d3d3d" stroke-width="0.9"/><rect x="536.58" y="338.20" width="2.9" height="44.10" fill="#3d3d3d"/><circle cx="538.03" cy="355.50" r="0.75" fill="#d0d0d0"/>
<path d="M572.72,312.70 C572.93,313.97 573.72,318.75 573.97,320.30 C574.21,321.85 573.96,320.73 574.20,322.00 C574.44,323.27 574.98,325.65 575.41,327.90 C575.84,330.15 576.54,334.13 576.79,335.50 C577.04,336.87 576.62,334.85 576.90,336.10 C577.18,337.35 577.99,340.67 578.47,343.00 C578.96,345.33 579.57,348.83 579.81,350.10 C580.05,351.37 579.71,349.25 579.90,350.60 C580.08,351.95 580.60,355.93 580.92,358.20 C581.24,360.47 581.48,361.90 581.79,364.20 C582.11,366.50 582.53,369.67 582.80,372.00 C583.07,374.33 583.30,376.93 583.42,378.20 C583.54,379.47 583.46,378.30 583.51,379.60 C583.56,380.90 583.71,384.73 583.74,386.00 C583.77,387.27 583.85,385.80 583.70,387.20 C583.55,388.60 582.99,393.15 582.84,394.40 C582.68,395.65 583.09,393.38 582.78,394.70 C582.48,396.02 581.58,399.95 580.99,402.30 C580.41,404.65 579.62,407.53 579.28,408.80 C578.95,410.07 579.30,408.70 579.00,409.90 C578.71,411.10 577.84,414.73 577.54,416.00 C577.24,417.27 577.45,416.30 577.20,417.50 C576.94,418.70 576.28,421.95 576.01,423.20 C575.75,424.45 575.83,423.87 575.60,425.00 C575.36,426.13 574.83,428.73 574.59,430.00 C574.35,431.27 574.33,431.33 574.14,432.60 C573.95,433.87 573.61,436.30 573.46,437.60 C573.31,438.90 573.38,438.70 573.24,440.40 C573.10,442.10 572.81,445.62 572.65,447.80 C572.49,449.98 572.34,452.55 572.27,453.50 L569.07,453.50 C569.01,452.55 568.86,449.98 568.70,447.80 C568.54,445.62 568.25,442.10 568.11,440.40 C567.97,438.70 568.04,438.90 567.89,437.60 C567.74,436.30 567.40,433.87 567.21,432.60 C567.02,431.33 567.00,431.27 566.76,430.00 C566.51,428.73 565.99,426.13 565.75,425.00 C565.52,423.87 565.60,424.45 565.33,423.20 C565.07,421.95 564.41,418.70 564.15,417.50 C563.90,416.30 564.11,417.27 563.81,416.00 C563.51,414.73 562.63,411.10 562.34,409.90 C562.05,408.70 562.40,410.07 562.06,408.80 C561.73,407.53 560.94,404.65 560.35,402.30 C559.77,399.95 558.87,396.02 558.57,394.70 C558.26,393.38 558.67,395.65 558.51,394.40 C558.36,393.15 557.80,388.60 557.65,387.20 C557.49,385.80 557.58,387.27 557.61,386.00 C557.64,384.73 557.79,380.90 557.84,379.60 C557.89,378.30 557.81,379.47 557.93,378.20 C558.05,376.93 558.28,374.33 558.55,372.00 C558.82,369.67 559.24,366.50 559.56,364.20 C559.87,361.90 560.11,360.47 560.43,358.20 C560.75,355.93 561.27,351.95 561.45,350.60 C561.64,349.25 561.30,351.37 561.54,350.10 C561.78,348.83 562.39,345.33 562.88,343.00 C563.36,340.67 564.17,337.35 564.45,336.10 C564.73,334.85 564.31,336.87 564.56,335.50 C564.81,334.13 565.51,330.15 565.94,327.90 C566.37,325.65 566.91,323.27 567.15,322.00 C567.39,320.73 567.14,321.85 567.38,320.30 C567.63,318.75 568.42,313.97 568.62,312.70 Z" fill="#8c564b" stroke="#3d3d3d" stroke-width="1.15" stroke-linejoin="miter" stroke-miterlimit="3"/><line x1="570.67" y1="312.70" x2="570.67" y2="453.50" stroke="#3d3d3d" stroke-width="0.9"/><rect x="569.22" y="351.80" width="2.9" height="48.20" fill="#3d3d3d"/><circle cx="570.67" cy="385.30" r="0.75" fill="#d0d0d0"/>
<path d="M605.62,336.70 C606.14,337.75 608.10,341.68 608.76,343.00 C609.42,344.32 608.87,343.33 609.59,344.60 C610.30,345.87 612.47,349.57 613.06,350.60 C613.66,351.63 612.72,349.72 613.16,350.80 C613.59,351.88 615.20,355.87 615.68,357.10 C616.16,358.33 615.86,357.27 616.03,358.20 C616.20,359.13 616.57,361.83 616.68,362.70 C616.79,363.57 616.84,362.23 616.66,363.40 C616.48,364.57 615.82,368.27 615.61,369.70 C615.39,371.13 615.58,370.95 615.39,372.00 C615.21,373.05 614.89,374.73 614.51,376.00 C614.13,377.27 613.49,378.55 613.10,379.60 C612.70,380.65 612.65,381.03 612.15,382.30 C611.66,383.57 610.54,386.17 610.10,387.20 C609.67,388.23 609.97,387.50 609.55,388.50 C609.12,389.50 608.10,391.87 607.55,393.20 C607.01,394.53 606.48,395.95 606.27,396.50 L600.37,396.50 C600.15,395.95 599.63,394.53 599.08,393.20 C598.54,391.87 597.52,389.50 597.09,388.50 C596.67,387.50 596.97,388.23 596.54,387.20 C596.10,386.17 594.98,383.57 594.48,382.30 C593.98,381.03 593.93,380.65 593.54,379.60 C593.15,378.55 592.51,377.27 592.13,376.00 C591.74,374.73 591.43,373.05 591.25,372.00 C591.06,370.95 591.24,371.13 591.03,369.70 C590.82,368.27 590.15,364.57 589.98,363.40 C589.80,362.23 589.85,363.57 589.96,362.70 C590.06,361.83 590.44,359.13 590.61,358.20 C590.77,357.27 590.48,358.33 590.96,357.10 C591.44,355.87 593.04,351.88 593.48,350.80 C593.92,349.72 592.98,351.63 593.58,350.60 C594.17,349.57 596.34,345.87 597.05,344.60 C597.77,343.33 597.22,344.32 597.88,343.00 C598.54,341.68 600.50,337.75 601.02,336.70 Z" fill="#e377c2" stroke="#3d3d3d" stroke-width="1.15" stroke-linejoin="miter" stroke-miterlimit="3"/><line x1="603.32" y1="336.70" x2="603.32" y2="396.50" stroke="#3d3d3d" stroke-width="0.9"/><rect x="601.87" y="354.90" width="2.9" height="21.70" fill="#3d3d3d"/><circle cx="603.32" cy="362.40" r="0.75" fill="#d0d0d0"/>
<path d="M638.51,338.20 C638.57,339.17 638.75,342.68 638.84,344.00 C638.94,345.32 638.94,345.12 639.09,346.10 C639.23,347.08 639.47,348.65 639.72,349.90 C639.96,351.15 640.24,352.28 640.55,353.60 C640.86,354.92 641.20,356.53 641.58,357.80 C641.96,359.07 642.35,359.87 642.83,361.20 C643.31,362.53 643.82,364.00 644.47,365.80 C645.12,367.60 646.25,370.68 646.72,372.00 C647.20,373.32 646.93,372.43 647.32,373.70 C647.72,374.97 648.75,378.27 649.08,379.60 C649.41,380.93 649.41,380.43 649.29,381.70 C649.17,382.97 648.63,385.88 648.35,387.20 C648.08,388.52 648.03,388.35 647.62,389.60 C647.21,390.85 646.30,393.37 645.90,394.70 C645.50,396.03 645.44,396.33 645.21,397.60 C644.98,398.87 644.69,400.98 644.51,402.30 C644.33,403.62 644.31,404.23 644.14,405.50 C643.97,406.77 643.82,408.12 643.49,409.90 C643.16,411.68 642.38,415.15 642.16,416.20 L629.76,416.20 C629.54,415.15 628.76,411.68 628.43,409.90 C628.10,408.12 627.96,406.77 627.79,405.50 C627.62,404.23 627.59,403.62 627.41,402.30 C627.24,400.98 626.94,398.87 626.71,397.60 C626.48,396.33 626.43,396.03 626.03,394.70 C625.63,393.37 624.72,390.85 624.31,389.60 C623.90,388.35 623.85,388.52 623.57,387.20 C623.29,385.88 622.76,382.97 622.64,381.70 C622.52,380.43 622.52,380.93 622.85,379.60 C623.17,378.27 624.21,374.97 624.60,373.70 C624.99,372.43 624.73,373.32 625.20,372.00 C625.68,370.68 626.81,367.60 627.46,365.80 C628.11,364.00 628.62,362.53 629.10,361.20 C629.58,359.87 629.97,359.07 630.34,357.80 C630.72,356.53 631.06,354.92 631.37,353.60 C631.69,352.28 631.97,351.15 632.21,349.90 C632.46,348.65 632.70,347.08 632.84,346.10 C632.99,345.12 632.99,345.32 633.08,344.00 C633.18,342.68 633.36,339.17 633.41,338.20 Z" fill="#7f7f7f" stroke="#3d3d3d" stroke-width="1.15" stroke-linejoin="miter" stroke-miterlimit="3"/><line x1="635.96" y1="338.20" x2="635.96" y2="416.20" stroke="#3d3d3d" stroke-width="0.9"/><rect x="634.51" y="370.90" width="2.9" height="27.50" fill="#3d3d3d"/><circle cx="635.96" cy="386.10" r="0.75" fill="#d0d0d0"/>
<path d="M669.31,295.40 C669.30,296.95 669.24,301.52 669.26,304.70 C669.27,307.88 669.25,311.57 669.41,314.50 C669.57,317.43 669.86,319.85 670.21,322.30 C670.56,324.75 671.14,327.08 671.51,329.20 C671.87,331.32 672.05,333.22 672.41,335.00 C672.76,336.78 673.21,338.27 673.63,339.90 C674.06,341.53 674.47,343.17 674.96,344.80 C675.44,346.43 676.02,348.07 676.53,349.70 C677.04,351.33 677.50,352.97 678.01,354.60 C678.52,356.23 679.12,357.87 679.58,359.50 C680.04,361.13 680.46,362.77 680.76,364.40 C681.06,366.03 681.24,367.67 681.38,369.30 C681.53,370.93 681.58,373.33 681.62,374.20 C681.66,375.07 681.71,373.68 681.61,374.50 C681.51,375.32 681.32,377.43 681.01,379.10 C680.69,380.77 680.16,382.77 679.71,384.50 C679.26,386.23 678.77,387.82 678.31,389.50 C677.84,391.18 677.36,392.93 676.91,394.60 C676.46,396.27 676.04,397.87 675.61,399.50 C675.17,401.13 674.74,402.77 674.31,404.40 C673.87,406.03 673.42,407.67 673.01,409.30 C672.59,410.93 672.06,412.70 671.81,414.20 C671.56,415.70 671.56,417.62 671.51,418.30 L665.71,418.30 C665.66,417.62 665.66,415.70 665.41,414.20 C665.16,412.70 664.62,410.93 664.21,409.30 C663.79,407.67 663.34,406.03 662.91,404.40 C662.47,402.77 662.04,401.13 661.61,399.50 C661.17,397.87 660.76,396.27 660.31,394.60 C659.86,392.93 659.37,391.18 658.91,389.50 C658.44,387.82 657.96,386.23 657.51,384.50 C657.06,382.77 656.52,380.77 656.21,379.10 C655.89,377.43 655.71,375.32 655.61,374.50 C655.51,373.68 655.56,375.07 655.60,374.20 C655.64,373.33 655.69,370.93 655.83,369.30 C655.98,367.67 656.16,366.03 656.46,364.40 C656.76,362.77 657.17,361.13 657.63,359.50 C658.09,357.87 658.70,356.23 659.21,354.60 C659.72,352.97 660.17,351.33 660.68,349.70 C661.19,348.07 661.77,346.43 662.26,344.80 C662.74,343.17 663.16,341.53 663.58,339.90 C664.01,338.27 664.45,336.78 664.81,335.00 C665.16,333.22 665.34,331.32 665.71,329.20 C666.07,327.08 666.66,324.75 667.01,322.30 C667.36,319.85 667.65,317.43 667.81,314.50 C667.97,311.57 667.94,307.88 667.96,304.70 C667.97,301.52 667.92,296.95 667.91,295.40 Z" fill="#bcbd22" stroke="#3d3d3d" stroke-width="1.15" stroke-linejoin="miter" stroke-miterlimit="3"/><line x1="668.61" y1="334.10" x2="668.61" y2="418.30" stroke="#3d3d3d" stroke-width="0.9"/><rect x="667.16" y="357.50" width="2.9" height="29.10" fill="#3d3d3d"/><circle cx="668.61" cy="372.70" r="0.75" fill="#d0d0d0"/>
<rect x="391.13" y="287.65" width="293.80" height="173.75" class="sp"/>
<line x1="407.45" y1="461.40" x2="407.45" y2="464.80" class="tk"/>
<text x="0.00" y="0.00" font-size="10.20" text-anchor="end" textLength="62.11" lengthAdjust="spacingAndGlyphs" transform="translate(410.10,468.30) rotate(-90)">Logistic Reg.</text>
<line x1="440.10" y1="461.40" x2="440.10" y2="464.80" class="tk"/>
<text x="0.00" y="0.00" font-size="10.20" text-anchor="end" textLength="54.39" lengthAdjust="spacingAndGlyphs" transform="translate(442.75,468.30) rotate(-90)">Linear SVM</text>
<line x1="472.74" y1="461.40" x2="472.74" y2="464.80" class="tk"/>
<text x="0.00" y="0.00" font-size="10.20" text-anchor="end" textLength="43.22" lengthAdjust="spacingAndGlyphs" transform="translate(475.39,468.30) rotate(-90)">RBF SVM</text>
<line x1="505.39" y1="461.40" x2="505.39" y2="464.80" class="tk"/>
<text x="0.00" y="0.00" font-size="10.20" text-anchor="end" textLength="73.78" lengthAdjust="spacingAndGlyphs" transform="translate(508.04,468.30) rotate(-90)">Random Forest</text>
<line x1="538.03" y1="461.40" x2="538.03" y2="464.80" class="tk"/>
<text x="0.00" y="0.00" font-size="10.20" text-anchor="end" textLength="19.62" lengthAdjust="spacingAndGlyphs" transform="translate(540.68,468.30) rotate(-90)">MLP</text>
<line x1="570.67" y1="461.40" x2="570.67" y2="464.80" class="tk"/>
<text x="0.00" y="0.00" font-size="10.20" text-anchor="end" textLength="45.62" lengthAdjust="spacingAndGlyphs" transform="translate(573.32,468.30) rotate(-90)">Adaboost</text>
<line x1="603.32" y1="461.40" x2="603.32" y2="464.80" class="tk"/>
<text x="0.00" y="0.00" font-size="10.20" text-anchor="end" textLength="60.05" lengthAdjust="spacingAndGlyphs" transform="translate(605.97,468.30) rotate(-90)">Naïve Bayes</text>
<line x1="635.96" y1="461.40" x2="635.96" y2="464.80" class="tk"/>
<text x="0.00" y="0.00" font-size="10.20" text-anchor="end" textLength="21.74" lengthAdjust="spacingAndGlyphs" transform="translate(638.61,468.30) rotate(-90)">QDA</text>
<line x1="668.61" y1="461.40" x2="668.61" y2="464.80" class="tk"/>
<text x="0.00" y="0.00" font-size="10.20" text-anchor="end" textLength="19.51" lengthAdjust="spacingAndGlyphs" transform="translate(671.26,468.30) rotate(-90)">LDA</text>
<line x1="387.73" y1="446.70" x2="391.13" y2="446.70" class="tk"/>
<text x="384.33" y="450.40" font-size="10.20" text-anchor="end" textLength="21.60" lengthAdjust="spacingAndGlyphs">0.55</text>
<line x1="387.73" y1="419.16" x2="391.13" y2="419.16" class="tk"/>
<text x="384.33" y="422.86" font-size="10.20" text-anchor="end" textLength="21.60" lengthAdjust="spacingAndGlyphs">0.60</text>
<line x1="387.73" y1="391.62" x2="391.13" y2="391.62" class="tk"/>
<text x="384.33" y="395.32" font-size="10.20" text-anchor="end" textLength="21.60" lengthAdjust="spacingAndGlyphs">0.65</text>
<line x1="387.73" y1="364.08" x2="391.13" y2="364.08" class="tk"/>
<text x="384.33" y="367.78" font-size="10.20" text-anchor="end" textLength="21.60" lengthAdjust="spacingAndGlyphs">0.70</text>
<line x1="387.73" y1="336.54" x2="391.13" y2="336.54" class="tk"/>
<text x="384.33" y="340.24" font-size="10.20" text-anchor="end" textLength="21.60" lengthAdjust="spacingAndGlyphs">0.75</text>
<line x1="387.73" y1="309.00" x2="391.13" y2="309.00" class="tk"/>
<text x="384.33" y="312.70" font-size="10.20" text-anchor="end" textLength="21.60" lengthAdjust="spacingAndGlyphs">0.80</text>
<text x="0.00" y="0.00" font-size="10.20" text-anchor="middle" textLength="102.80" lengthAdjust="spacingAndGlyphs" transform="translate(356.23,374.52) rotate(-90)">Cohen&#39;s Kappa Score</text>
<text x="346.83" y="287.55" font-size="15.20" text-anchor="start" font-weight="bold" style="stroke-width:0.55px" textLength="18.53" lengthAdjust="spacingAndGlyphs">D)</text>
</svg>
</body></html>
